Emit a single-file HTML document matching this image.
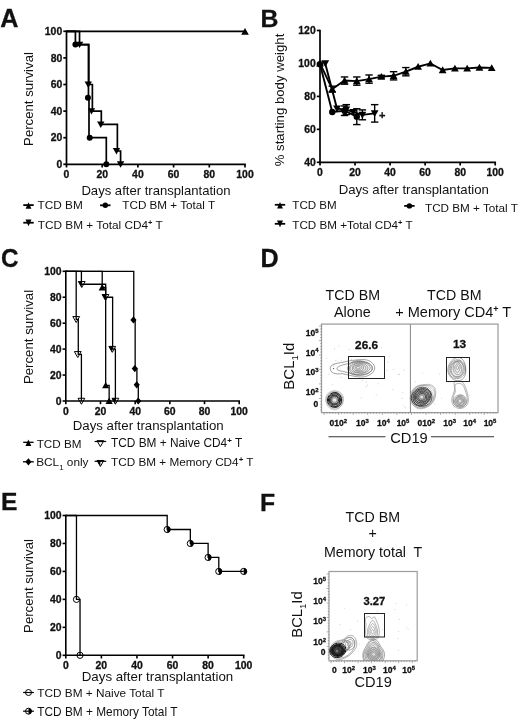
<!DOCTYPE html>
<html lang="en"><head><meta charset="utf-8"><title>Figure</title>
<style>html,body{margin:0;padding:0;background:#fff}svg{display:block}text{font-family:'Liberation Sans', Arial, sans-serif}</style>
</head><body>
<svg width="520" height="722" viewBox="0 0 520 722">
<rect width="520" height="722" fill="#fff"/>
<text xml:space="preserve" x="0.30" y="26.80" font-size="25.2" font-weight="bold" stroke="#111" stroke-width="0.3" text-anchor="start" fill="#111">A</text>
<line x1="66.50" y1="30.45" x2="66.50" y2="165.15" stroke="#000" stroke-width="1.7"/>
<line x1="65.65" y1="164.30" x2="245.85" y2="164.30" stroke="#000" stroke-width="1.7"/>
<line x1="63.30" y1="164.30" x2="66.50" y2="164.30" stroke="#000" stroke-width="1.7"/>
<text xml:space="preserve" x="62.20" y="168.04" font-size="10.4" font-weight="bold" stroke="#111" stroke-width="0.3" text-anchor="end" fill="#111">0</text>
<line x1="63.30" y1="137.70" x2="66.50" y2="137.70" stroke="#000" stroke-width="1.7"/>
<text xml:space="preserve" x="62.20" y="141.44" font-size="10.4" font-weight="bold" stroke="#111" stroke-width="0.3" text-anchor="end" fill="#111">20</text>
<line x1="63.30" y1="111.10" x2="66.50" y2="111.10" stroke="#000" stroke-width="1.7"/>
<text xml:space="preserve" x="62.20" y="114.84" font-size="10.4" font-weight="bold" stroke="#111" stroke-width="0.3" text-anchor="end" fill="#111">40</text>
<line x1="63.30" y1="84.50" x2="66.50" y2="84.50" stroke="#000" stroke-width="1.7"/>
<text xml:space="preserve" x="62.20" y="88.24" font-size="10.4" font-weight="bold" stroke="#111" stroke-width="0.3" text-anchor="end" fill="#111">60</text>
<line x1="63.30" y1="57.90" x2="66.50" y2="57.90" stroke="#000" stroke-width="1.7"/>
<text xml:space="preserve" x="62.20" y="61.64" font-size="10.4" font-weight="bold" stroke="#111" stroke-width="0.3" text-anchor="end" fill="#111">80</text>
<line x1="63.30" y1="31.30" x2="66.50" y2="31.30" stroke="#000" stroke-width="1.7"/>
<text xml:space="preserve" x="62.20" y="35.04" font-size="10.4" font-weight="bold" stroke="#111" stroke-width="0.3" text-anchor="end" fill="#111">100</text>
<line x1="66.50" y1="164.30" x2="66.50" y2="167.50" stroke="#000" stroke-width="1.7"/>
<text xml:space="preserve" x="66.50" y="178.00" font-size="10.4" font-weight="bold" stroke="#111" stroke-width="0.3" text-anchor="middle" fill="#111">0</text>
<line x1="102.20" y1="164.30" x2="102.20" y2="167.50" stroke="#000" stroke-width="1.7"/>
<text xml:space="preserve" x="102.20" y="178.00" font-size="10.4" font-weight="bold" stroke="#111" stroke-width="0.3" text-anchor="middle" fill="#111">20</text>
<line x1="137.90" y1="164.30" x2="137.90" y2="167.50" stroke="#000" stroke-width="1.7"/>
<text xml:space="preserve" x="137.90" y="178.00" font-size="10.4" font-weight="bold" stroke="#111" stroke-width="0.3" text-anchor="middle" fill="#111">40</text>
<line x1="173.60" y1="164.30" x2="173.60" y2="167.50" stroke="#000" stroke-width="1.7"/>
<text xml:space="preserve" x="173.60" y="178.00" font-size="10.4" font-weight="bold" stroke="#111" stroke-width="0.3" text-anchor="middle" fill="#111">60</text>
<line x1="209.30" y1="164.30" x2="209.30" y2="167.50" stroke="#000" stroke-width="1.7"/>
<text xml:space="preserve" x="209.30" y="178.00" font-size="10.4" font-weight="bold" stroke="#111" stroke-width="0.3" text-anchor="middle" fill="#111">80</text>
<line x1="245.00" y1="164.30" x2="245.00" y2="167.50" stroke="#000" stroke-width="1.7"/>
<text xml:space="preserve" x="245.00" y="178.00" font-size="10.4" font-weight="bold" stroke="#111" stroke-width="0.3" text-anchor="middle" fill="#111">100</text>
<text xml:space="preserve" x="33.30" y="99.00" font-size="13.2" text-anchor="middle" fill="#111" transform="rotate(-90 33.30 99.00)">Percent survival</text>
<text xml:space="preserve" x="156.00" y="194.50" font-size="13.1" text-anchor="middle" fill="#111">Days after transplantation</text>
<polyline points="66.50,31.30 245.00,31.30" fill="none" stroke="#000" stroke-width="1.7" stroke-linejoin="miter"/>
<path d="M241.20 34.64L248.80 34.64L245.00 27.99Z" fill="#000"/>
<polyline points="66.50,31.30 75.42,31.30 75.42,44.60 88.46,44.60 88.46,97.80 88.99,97.80 88.99,137.70 106.31,137.70 106.31,164.30" fill="none" stroke="#000" stroke-width="1.7" stroke-linejoin="miter"/>
<circle cx="75.42" cy="44.60" r="3.0" fill="#000"/>
<circle cx="87.92" cy="97.80" r="3.0" fill="#000"/>
<circle cx="89.70" cy="137.70" r="3.0" fill="#000"/>
<circle cx="106.31" cy="164.30" r="3.0" fill="#000"/>
<polyline points="66.50,31.30 79.53,31.30 79.53,44.60 88.81,44.60 88.81,84.50 92.38,84.50 92.38,111.10 101.31,111.10 101.31,124.40 117.37,124.40 117.37,151.00 120.59,151.00 120.59,164.30" fill="none" stroke="#000" stroke-width="1.7" stroke-linejoin="miter"/>
<path d="M75.83 41.64L83.23 41.64L79.53 48.12Z" fill="#000"/>
<path d="M84.58 81.54L91.98 81.54L88.28 88.02Z" fill="#000"/>
<path d="M87.79 108.14L95.19 108.14L91.49 114.62Z" fill="#000"/>
<path d="M97.07 121.44L104.47 121.44L100.77 127.92Z" fill="#000"/>
<path d="M112.78 148.04L120.18 148.04L116.48 154.51Z" fill="#000"/>
<path d="M116.89 161.34L124.29 161.34L120.59 167.81Z" fill="#000"/>
<line x1="23.30" y1="205.10" x2="33.70" y2="205.10" stroke="#000" stroke-width="1.8"/>
<path d="M25.60 208.70L31.40 208.70L28.50 202.20Z" fill="#000"/>
<text xml:space="preserve" x="37.60" y="208.90" font-size="11.8" text-anchor="start" fill="#111">TCD BM</text>
<line x1="100.10" y1="205.30" x2="110.50" y2="205.30" stroke="#000" stroke-width="1.8"/>
<circle cx="105.30" cy="205.30" r="2.7" fill="#000"/>
<text xml:space="preserve" x="122.30" y="209.40" font-size="11.7" text-anchor="start" fill="#111">TCD BM + Total T</text>
<line x1="23.30" y1="222.70" x2="33.70" y2="222.70" stroke="#000" stroke-width="1.8"/>
<path d="M25.50 219.50L31.50 219.50L28.50 226.20Z" fill="#000"/>
<text xml:space="preserve" x="37.80" y="229.40" font-size="11.8" text-anchor="start" fill="#111">TCD BM + Total CD4<tspan dy="-4" font-size="7.5" font-weight="bold">+</tspan><tspan dy="4"> T</tspan></text>
<text xml:space="preserve" x="260.60" y="26.60" font-size="24.8" font-weight="bold" stroke="#111" stroke-width="0.3" text-anchor="start" fill="#111">B</text>
<line x1="320.00" y1="29.65" x2="320.00" y2="163.15" stroke="#000" stroke-width="1.7"/>
<line x1="319.15" y1="162.30" x2="496.05" y2="162.30" stroke="#000" stroke-width="1.7"/>
<line x1="316.80" y1="162.30" x2="320.00" y2="162.30" stroke="#000" stroke-width="1.7"/>
<text xml:space="preserve" x="315.70" y="166.04" font-size="10.4" font-weight="bold" stroke="#111" stroke-width="0.3" text-anchor="end" fill="#111">40</text>
<line x1="316.80" y1="129.35" x2="320.00" y2="129.35" stroke="#000" stroke-width="1.7"/>
<text xml:space="preserve" x="315.70" y="133.09" font-size="10.4" font-weight="bold" stroke="#111" stroke-width="0.3" text-anchor="end" fill="#111">60</text>
<line x1="316.80" y1="96.40" x2="320.00" y2="96.40" stroke="#000" stroke-width="1.7"/>
<text xml:space="preserve" x="315.70" y="100.14" font-size="10.4" font-weight="bold" stroke="#111" stroke-width="0.3" text-anchor="end" fill="#111">80</text>
<line x1="316.80" y1="63.45" x2="320.00" y2="63.45" stroke="#000" stroke-width="1.7"/>
<text xml:space="preserve" x="315.70" y="67.19" font-size="10.4" font-weight="bold" stroke="#111" stroke-width="0.3" text-anchor="end" fill="#111">100</text>
<line x1="316.80" y1="30.50" x2="320.00" y2="30.50" stroke="#000" stroke-width="1.7"/>
<text xml:space="preserve" x="315.70" y="34.24" font-size="10.4" font-weight="bold" stroke="#111" stroke-width="0.3" text-anchor="end" fill="#111">120</text>
<line x1="320.00" y1="162.30" x2="320.00" y2="165.50" stroke="#000" stroke-width="1.7"/>
<text xml:space="preserve" x="320.00" y="176.00" font-size="10.4" font-weight="bold" stroke="#111" stroke-width="0.3" text-anchor="middle" fill="#111">0</text>
<line x1="355.04" y1="162.30" x2="355.04" y2="165.50" stroke="#000" stroke-width="1.7"/>
<text xml:space="preserve" x="355.04" y="176.00" font-size="10.4" font-weight="bold" stroke="#111" stroke-width="0.3" text-anchor="middle" fill="#111">20</text>
<line x1="390.08" y1="162.30" x2="390.08" y2="165.50" stroke="#000" stroke-width="1.7"/>
<text xml:space="preserve" x="390.08" y="176.00" font-size="10.4" font-weight="bold" stroke="#111" stroke-width="0.3" text-anchor="middle" fill="#111">40</text>
<line x1="425.12" y1="162.30" x2="425.12" y2="165.50" stroke="#000" stroke-width="1.7"/>
<text xml:space="preserve" x="425.12" y="176.00" font-size="10.4" font-weight="bold" stroke="#111" stroke-width="0.3" text-anchor="middle" fill="#111">60</text>
<line x1="460.16" y1="162.30" x2="460.16" y2="165.50" stroke="#000" stroke-width="1.7"/>
<text xml:space="preserve" x="460.16" y="176.00" font-size="10.4" font-weight="bold" stroke="#111" stroke-width="0.3" text-anchor="middle" fill="#111">80</text>
<line x1="495.20" y1="162.30" x2="495.20" y2="165.50" stroke="#000" stroke-width="1.7"/>
<text xml:space="preserve" x="495.20" y="176.00" font-size="10.4" font-weight="bold" stroke="#111" stroke-width="0.3" text-anchor="middle" fill="#111">100</text>
<text xml:space="preserve" x="284.00" y="100.00" font-size="13.2" text-anchor="middle" fill="#111" transform="rotate(-90 284.00 100.00)">% starting body weight</text>
<text xml:space="preserve" x="413.80" y="194.30" font-size="13.2" text-anchor="middle" fill="#111">Days after transplantation</text>
<line x1="332.26" y1="92.12" x2="332.26" y2="86.19" stroke="#000" stroke-width="1.4"/>
<line x1="328.56" y1="92.12" x2="335.96" y2="92.12" stroke="#000" stroke-width="1.4"/>
<line x1="328.56" y1="86.19" x2="335.96" y2="86.19" stroke="#000" stroke-width="1.4"/>
<line x1="344.53" y1="84.21" x2="344.53" y2="76.96" stroke="#000" stroke-width="1.4"/>
<line x1="340.83" y1="84.21" x2="348.23" y2="84.21" stroke="#000" stroke-width="1.4"/>
<line x1="340.83" y1="76.96" x2="348.23" y2="76.96" stroke="#000" stroke-width="1.4"/>
<line x1="356.79" y1="85.20" x2="356.79" y2="76.96" stroke="#000" stroke-width="1.4"/>
<line x1="353.09" y1="85.20" x2="360.49" y2="85.20" stroke="#000" stroke-width="1.4"/>
<line x1="353.09" y1="76.96" x2="360.49" y2="76.96" stroke="#000" stroke-width="1.4"/>
<line x1="369.06" y1="83.22" x2="369.06" y2="74.98" stroke="#000" stroke-width="1.4"/>
<line x1="365.36" y1="83.22" x2="372.76" y2="83.22" stroke="#000" stroke-width="1.4"/>
<line x1="365.36" y1="74.98" x2="372.76" y2="74.98" stroke="#000" stroke-width="1.4"/>
<line x1="381.32" y1="77.95" x2="381.32" y2="75.31" stroke="#000" stroke-width="1.4"/>
<line x1="377.62" y1="77.95" x2="385.02" y2="77.95" stroke="#000" stroke-width="1.4"/>
<line x1="377.62" y1="75.31" x2="385.02" y2="75.31" stroke="#000" stroke-width="1.4"/>
<line x1="393.58" y1="79.92" x2="393.58" y2="71.69" stroke="#000" stroke-width="1.4"/>
<line x1="389.88" y1="79.92" x2="397.28" y2="79.92" stroke="#000" stroke-width="1.4"/>
<line x1="389.88" y1="71.69" x2="397.28" y2="71.69" stroke="#000" stroke-width="1.4"/>
<line x1="405.85" y1="75.81" x2="405.85" y2="67.57" stroke="#000" stroke-width="1.4"/>
<line x1="402.15" y1="75.81" x2="409.55" y2="75.81" stroke="#000" stroke-width="1.4"/>
<line x1="402.15" y1="67.57" x2="409.55" y2="67.57" stroke="#000" stroke-width="1.4"/>
<polyline points="320.00,63.45 332.26,89.15 344.53,80.58 356.79,81.08 369.06,79.10 381.32,76.63 393.58,75.81 405.85,71.69 418.11,66.75 430.38,63.45 442.64,70.04 454.90,68.39 467.17,68.39 479.43,67.57 491.70,67.90" fill="none" stroke="#000" stroke-width="1.9" stroke-linejoin="miter"/>
<path d="M316.10 66.57L323.90 66.57L320.00 59.75Z" fill="#000"/>
<path d="M328.36 92.27L336.16 92.27L332.26 85.45Z" fill="#000"/>
<path d="M340.63 83.70L348.43 83.70L344.53 76.88Z" fill="#000"/>
<path d="M352.89 84.20L360.69 84.20L356.79 77.37Z" fill="#000"/>
<path d="M365.16 82.22L372.96 82.22L369.06 75.40Z" fill="#000"/>
<path d="M377.42 79.75L385.22 79.75L381.32 72.93Z" fill="#000"/>
<path d="M389.68 78.93L397.48 78.93L393.58 72.10Z" fill="#000"/>
<path d="M401.95 74.81L409.75 74.81L405.85 67.98Z" fill="#000"/>
<path d="M414.21 69.87L422.01 69.87L418.11 63.04Z" fill="#000"/>
<path d="M426.48 66.57L434.28 66.57L430.38 59.75Z" fill="#000"/>
<path d="M438.74 73.16L446.54 73.16L442.64 66.33Z" fill="#000"/>
<path d="M451.00 71.51L458.80 71.51L454.90 64.69Z" fill="#000"/>
<path d="M463.27 71.51L471.07 71.51L467.17 64.69Z" fill="#000"/>
<path d="M475.53 70.69L483.33 70.69L479.43 63.86Z" fill="#000"/>
<path d="M487.80 71.02L495.60 71.02L491.70 64.19Z" fill="#000"/>
<line x1="344.53" y1="115.51" x2="344.53" y2="105.96" stroke="#000" stroke-width="1.4"/>
<line x1="340.83" y1="115.51" x2="348.23" y2="115.51" stroke="#000" stroke-width="1.4"/>
<line x1="340.83" y1="105.96" x2="348.23" y2="105.96" stroke="#000" stroke-width="1.4"/>
<line x1="356.79" y1="124.57" x2="356.79" y2="108.76" stroke="#000" stroke-width="1.4"/>
<line x1="353.09" y1="124.57" x2="360.49" y2="124.57" stroke="#000" stroke-width="1.4"/>
<line x1="353.09" y1="108.76" x2="360.49" y2="108.76" stroke="#000" stroke-width="1.4"/>
<polyline points="320.00,64.27 332.26,112.05 344.53,110.73 356.79,116.66" fill="none" stroke="#000" stroke-width="1.9" stroke-linejoin="miter"/>
<circle cx="320.00" cy="64.27" r="3.2" fill="#000"/>
<circle cx="332.26" cy="112.05" r="3.2" fill="#000"/>
<circle cx="344.53" cy="110.73" r="3.2" fill="#000"/>
<circle cx="356.79" cy="116.66" r="3.2" fill="#000"/>
<line x1="346.28" y1="114.52" x2="346.28" y2="104.64" stroke="#000" stroke-width="1.4"/>
<line x1="342.58" y1="114.52" x2="349.98" y2="114.52" stroke="#000" stroke-width="1.4"/>
<line x1="342.58" y1="104.64" x2="349.98" y2="104.64" stroke="#000" stroke-width="1.4"/>
<line x1="362.40" y1="119.79" x2="362.40" y2="109.91" stroke="#000" stroke-width="1.4"/>
<line x1="358.70" y1="119.79" x2="366.10" y2="119.79" stroke="#000" stroke-width="1.4"/>
<line x1="358.70" y1="109.91" x2="366.10" y2="109.91" stroke="#000" stroke-width="1.4"/>
<line x1="374.66" y1="122.10" x2="374.66" y2="104.64" stroke="#000" stroke-width="1.4"/>
<line x1="370.96" y1="122.10" x2="378.36" y2="122.10" stroke="#000" stroke-width="1.4"/>
<line x1="370.96" y1="104.64" x2="378.36" y2="104.64" stroke="#000" stroke-width="1.4"/>
<polyline points="325.26,63.45 336.99,108.59 346.28,109.58 353.29,112.05 362.40,114.85 374.66,113.37" fill="none" stroke="#000" stroke-width="1.9" stroke-linejoin="miter"/>
<path d="M321.36 60.33L329.16 60.33L325.26 67.16Z" fill="#000"/>
<path d="M333.09 105.47L340.89 105.47L336.99 112.30Z" fill="#000"/>
<path d="M342.38 106.46L350.18 106.46L346.28 113.29Z" fill="#000"/>
<path d="M349.39 108.93L357.19 108.93L353.29 115.76Z" fill="#000"/>
<path d="M358.50 111.73L366.30 111.73L362.40 118.56Z" fill="#000"/>
<path d="M370.76 110.25L378.56 110.25L374.66 117.07Z" fill="#000"/>
<text xml:space="preserve" x="382.20" y="118.88" font-size="11" font-weight="bold" stroke="#111" stroke-width="0.3" text-anchor="middle" fill="#111">+</text>
<line x1="274.80" y1="204.80" x2="285.20" y2="204.80" stroke="#000" stroke-width="1.8"/>
<path d="M277.10 208.40L282.90 208.40L280.00 201.90Z" fill="#000"/>
<text xml:space="preserve" x="292.30" y="209.30" font-size="11.6" text-anchor="start" fill="#111">TCD BM</text>
<line x1="404.20" y1="205.90" x2="414.60" y2="205.90" stroke="#000" stroke-width="1.8"/>
<circle cx="409.40" cy="205.90" r="2.7" fill="#000"/>
<text xml:space="preserve" x="425.00" y="211.90" font-size="11.7" text-anchor="start" fill="#111">TCD BM + Total T</text>
<line x1="274.80" y1="223.80" x2="285.20" y2="223.80" stroke="#000" stroke-width="1.8"/>
<path d="M277.00 220.60L283.00 220.60L280.00 227.30Z" fill="#000"/>
<text xml:space="preserve" x="292.30" y="229.30" font-size="11.65" text-anchor="start" fill="#111">TCD BM +Total CD4<tspan dy="-4" font-size="7.5" font-weight="bold">+</tspan><tspan dy="4"> T</tspan></text>
<text transform="translate(0.9 266.9) scale(0.92 1)" font-size="26.4" font-weight="bold" stroke="#111" stroke-width="0.3" fill="#111">C</text>
<line x1="65.80" y1="270.50" x2="65.80" y2="401.80" stroke="#000" stroke-width="1.6"/>
<line x1="65.00" y1="401.00" x2="240.00" y2="401.00" stroke="#000" stroke-width="1.6"/>
<line x1="62.60" y1="401.00" x2="65.80" y2="401.00" stroke="#000" stroke-width="1.6"/>
<text xml:space="preserve" x="61.50" y="404.74" font-size="10.4" font-weight="bold" stroke="#111" stroke-width="0.3" text-anchor="end" fill="#111">0</text>
<line x1="62.60" y1="375.06" x2="65.80" y2="375.06" stroke="#000" stroke-width="1.6"/>
<text xml:space="preserve" x="61.50" y="378.80" font-size="10.4" font-weight="bold" stroke="#111" stroke-width="0.3" text-anchor="end" fill="#111">20</text>
<line x1="62.60" y1="349.12" x2="65.80" y2="349.12" stroke="#000" stroke-width="1.6"/>
<text xml:space="preserve" x="61.50" y="352.86" font-size="10.4" font-weight="bold" stroke="#111" stroke-width="0.3" text-anchor="end" fill="#111">40</text>
<line x1="62.60" y1="323.18" x2="65.80" y2="323.18" stroke="#000" stroke-width="1.6"/>
<text xml:space="preserve" x="61.50" y="326.92" font-size="10.4" font-weight="bold" stroke="#111" stroke-width="0.3" text-anchor="end" fill="#111">60</text>
<line x1="62.60" y1="297.24" x2="65.80" y2="297.24" stroke="#000" stroke-width="1.6"/>
<text xml:space="preserve" x="61.50" y="300.98" font-size="10.4" font-weight="bold" stroke="#111" stroke-width="0.3" text-anchor="end" fill="#111">80</text>
<line x1="62.60" y1="271.30" x2="65.80" y2="271.30" stroke="#000" stroke-width="1.6"/>
<text xml:space="preserve" x="61.50" y="275.04" font-size="10.4" font-weight="bold" stroke="#111" stroke-width="0.3" text-anchor="end" fill="#111">100</text>
<line x1="65.80" y1="401.00" x2="65.80" y2="404.20" stroke="#000" stroke-width="1.6"/>
<text xml:space="preserve" x="65.80" y="414.70" font-size="10.4" font-weight="bold" stroke="#111" stroke-width="0.3" text-anchor="middle" fill="#111">0</text>
<line x1="100.48" y1="401.00" x2="100.48" y2="404.20" stroke="#000" stroke-width="1.6"/>
<text xml:space="preserve" x="100.48" y="414.70" font-size="10.4" font-weight="bold" stroke="#111" stroke-width="0.3" text-anchor="middle" fill="#111">20</text>
<line x1="135.16" y1="401.00" x2="135.16" y2="404.20" stroke="#000" stroke-width="1.6"/>
<text xml:space="preserve" x="135.16" y="414.70" font-size="10.4" font-weight="bold" stroke="#111" stroke-width="0.3" text-anchor="middle" fill="#111">40</text>
<line x1="169.84" y1="401.00" x2="169.84" y2="404.20" stroke="#000" stroke-width="1.6"/>
<text xml:space="preserve" x="169.84" y="414.70" font-size="10.4" font-weight="bold" stroke="#111" stroke-width="0.3" text-anchor="middle" fill="#111">60</text>
<line x1="204.52" y1="401.00" x2="204.52" y2="404.20" stroke="#000" stroke-width="1.6"/>
<text xml:space="preserve" x="204.52" y="414.70" font-size="10.4" font-weight="bold" stroke="#111" stroke-width="0.3" text-anchor="middle" fill="#111">80</text>
<line x1="239.20" y1="401.00" x2="239.20" y2="404.20" stroke="#000" stroke-width="1.6"/>
<text xml:space="preserve" x="239.20" y="414.70" font-size="10.4" font-weight="bold" stroke="#111" stroke-width="0.3" text-anchor="middle" fill="#111">100</text>
<text xml:space="preserve" x="32.70" y="337.00" font-size="13.25" text-anchor="middle" fill="#111" transform="rotate(-90 32.70 337.00)">Percent survival</text>
<text xml:space="preserve" x="148.20" y="429.50" font-size="13.25" text-anchor="middle" fill="#111">Days after transplantation</text>
<polyline points="65.80,271.30 133.77,271.30 133.77,319.94 135.16,319.94 135.16,368.57 136.89,368.57 136.89,384.79 138.28,384.79 138.28,401.00" fill="none" stroke="#000" stroke-width="1.3" stroke-linejoin="miter"/>
<polyline points="65.80,271.30 102.21,271.30 102.21,287.51 105.68,287.51 105.68,385.44 109.15,385.44 109.15,401.00" fill="none" stroke="#000" stroke-width="1.3" stroke-linejoin="miter"/>
<polyline points="65.80,271.30 76.20,271.30 76.20,319.29 78.28,319.29 78.28,354.31 81.41,354.31 81.41,401.00" fill="none" stroke="#000" stroke-width="1.3" stroke-linejoin="miter"/>
<polyline points="65.80,271.30 81.41,271.30 81.41,284.27 105.68,284.27 105.68,297.24 112.62,297.24 112.62,349.12 115.39,349.12 115.39,401.00" fill="none" stroke="#000" stroke-width="1.3" stroke-linejoin="miter"/>
<path d="M130.37 319.94L133.43 316.34L136.49 319.94L133.43 323.54Z" fill="#000"/>
<path d="M131.75 368.57L134.81 364.97L137.87 368.57L134.81 372.18Z" fill="#000"/>
<path d="M133.66 384.79L136.72 381.19L139.78 384.79L136.72 388.39Z" fill="#000"/>
<path d="M135.22 401.00L138.28 397.40L141.34 401.00L138.28 404.60Z" fill="#000"/>
<path d="M98.61 290.39L105.81 290.39L102.21 284.09Z" fill="#000"/>
<path d="M102.08 388.32L109.28 388.32L105.68 382.02Z" fill="#000"/>
<path d="M105.55 403.88L112.75 403.88L109.15 397.58Z" fill="#000"/>
<path d="M72.80 316.57L79.60 316.57L76.20 322.52Z" fill="none" stroke="#000" stroke-width="1.0"/>
<path d="M74.36 351.59L81.16 351.59L77.76 357.54Z" fill="none" stroke="#000" stroke-width="1.0"/>
<path d="M78.01 398.28L84.81 398.28L81.41 404.23Z" fill="none" stroke="#000" stroke-width="1.0"/>
<path d="M78.35 281.55L85.15 281.55L81.75 287.50Z" fill="none" stroke="#000" stroke-width="1.0"/>
<path d="M78.35 281.55L81.75 281.55L81.75 287.50Z" fill="#000"/>
<path d="M102.11 294.52L108.91 294.52L105.51 300.47Z" fill="none" stroke="#000" stroke-width="1.0"/>
<path d="M102.11 294.52L105.51 294.52L105.51 300.47Z" fill="#000"/>
<path d="M108.87 346.40L115.67 346.40L112.27 352.35Z" fill="none" stroke="#000" stroke-width="1.0"/>
<path d="M108.87 346.40L112.27 346.40L112.27 352.35Z" fill="#000"/>
<path d="M111.99 398.28L118.79 398.28L115.39 404.23Z" fill="none" stroke="#000" stroke-width="1.0"/>
<path d="M111.99 398.28L115.39 398.28L115.39 404.23Z" fill="#000"/>
<line x1="23.20" y1="442.30" x2="33.60" y2="442.30" stroke="#000" stroke-width="1.3"/>
<path d="M25.50 445.90L31.30 445.90L28.40 439.40Z" fill="#000"/>
<text xml:space="preserve" x="36.70" y="447.50" font-size="11.7" text-anchor="start" fill="#111">TCD BM</text>
<line x1="94.60" y1="441.50" x2="106.20" y2="441.50" stroke="#000" stroke-width="1.2"/>
<path d="M97.00 440.68L103.80 440.68L100.40 446.63Z" fill="none" stroke="#000" stroke-width="1.0"/>
<text xml:space="preserve" x="111.00" y="447.30" font-size="11.85" text-anchor="start" fill="#111">TCD BM + Naive CD4<tspan dy="-4" font-size="8" font-weight="bold">+</tspan><tspan dy="4"> T</tspan></text>
<line x1="23.00" y1="461.80" x2="33.80" y2="461.80" stroke="#000" stroke-width="1.3"/>
<path d="M25.34 461.80L28.40 458.20L31.46 461.80L28.40 465.40Z" fill="#000"/>
<text xml:space="preserve" x="36.20" y="466.20" font-size="11.8" text-anchor="start" fill="#111">BCL<tspan dy="3.5" font-size="8">1</tspan><tspan dy="-3.5"> only</tspan></text>
<line x1="94.60" y1="461.30" x2="106.20" y2="461.30" stroke="#000" stroke-width="1.2"/>
<path d="M97.00 460.48L103.80 460.48L100.40 466.43Z" fill="none" stroke="#000" stroke-width="1.0"/>
<path d="M97.00 460.48L100.40 460.48L100.40 466.43Z" fill="#000"/>
<text xml:space="preserve" x="111.00" y="465.60" font-size="11.75" text-anchor="start" fill="#111">TCD BM + Memory CD4<tspan dy="-4" font-size="8" font-weight="bold">+</tspan><tspan dy="4"> T</tspan></text>
<text xml:space="preserve" x="0.90" y="510.40" font-size="24.6" font-weight="bold" stroke="#111" stroke-width="0.3" text-anchor="start" fill="#111">E</text>
<line x1="65.80" y1="514.70" x2="65.80" y2="656.10" stroke="#000" stroke-width="1.6"/>
<line x1="65.00" y1="655.30" x2="244.50" y2="655.30" stroke="#000" stroke-width="1.6"/>
<line x1="62.60" y1="655.30" x2="65.80" y2="655.30" stroke="#000" stroke-width="1.6"/>
<text xml:space="preserve" x="61.50" y="659.04" font-size="10.4" font-weight="bold" stroke="#111" stroke-width="0.3" text-anchor="end" fill="#111">0</text>
<line x1="62.60" y1="627.34" x2="65.80" y2="627.34" stroke="#000" stroke-width="1.6"/>
<text xml:space="preserve" x="61.50" y="631.08" font-size="10.4" font-weight="bold" stroke="#111" stroke-width="0.3" text-anchor="end" fill="#111">20</text>
<line x1="62.60" y1="599.38" x2="65.80" y2="599.38" stroke="#000" stroke-width="1.6"/>
<text xml:space="preserve" x="61.50" y="603.12" font-size="10.4" font-weight="bold" stroke="#111" stroke-width="0.3" text-anchor="end" fill="#111">40</text>
<line x1="62.60" y1="571.42" x2="65.80" y2="571.42" stroke="#000" stroke-width="1.6"/>
<text xml:space="preserve" x="61.50" y="575.16" font-size="10.4" font-weight="bold" stroke="#111" stroke-width="0.3" text-anchor="end" fill="#111">60</text>
<line x1="62.60" y1="543.46" x2="65.80" y2="543.46" stroke="#000" stroke-width="1.6"/>
<text xml:space="preserve" x="61.50" y="547.20" font-size="10.4" font-weight="bold" stroke="#111" stroke-width="0.3" text-anchor="end" fill="#111">80</text>
<line x1="62.60" y1="515.50" x2="65.80" y2="515.50" stroke="#000" stroke-width="1.6"/>
<text xml:space="preserve" x="61.50" y="519.24" font-size="10.4" font-weight="bold" stroke="#111" stroke-width="0.3" text-anchor="end" fill="#111">100</text>
<line x1="65.80" y1="655.30" x2="65.80" y2="658.50" stroke="#000" stroke-width="1.6"/>
<text xml:space="preserve" x="65.80" y="669.00" font-size="10.4" font-weight="bold" stroke="#111" stroke-width="0.3" text-anchor="middle" fill="#111">0</text>
<line x1="101.38" y1="655.30" x2="101.38" y2="658.50" stroke="#000" stroke-width="1.6"/>
<text xml:space="preserve" x="101.38" y="669.00" font-size="10.4" font-weight="bold" stroke="#111" stroke-width="0.3" text-anchor="middle" fill="#111">20</text>
<line x1="136.96" y1="655.30" x2="136.96" y2="658.50" stroke="#000" stroke-width="1.6"/>
<text xml:space="preserve" x="136.96" y="669.00" font-size="10.4" font-weight="bold" stroke="#111" stroke-width="0.3" text-anchor="middle" fill="#111">40</text>
<line x1="172.54" y1="655.30" x2="172.54" y2="658.50" stroke="#000" stroke-width="1.6"/>
<text xml:space="preserve" x="172.54" y="669.00" font-size="10.4" font-weight="bold" stroke="#111" stroke-width="0.3" text-anchor="middle" fill="#111">60</text>
<line x1="208.12" y1="655.30" x2="208.12" y2="658.50" stroke="#000" stroke-width="1.6"/>
<text xml:space="preserve" x="208.12" y="669.00" font-size="10.4" font-weight="bold" stroke="#111" stroke-width="0.3" text-anchor="middle" fill="#111">80</text>
<line x1="243.70" y1="655.30" x2="243.70" y2="658.50" stroke="#000" stroke-width="1.6"/>
<text xml:space="preserve" x="243.70" y="669.00" font-size="10.4" font-weight="bold" stroke="#111" stroke-width="0.3" text-anchor="middle" fill="#111">100</text>
<text xml:space="preserve" x="32.70" y="586.00" font-size="13.2" text-anchor="middle" fill="#111" transform="rotate(-90 32.70 586.00)">Percent survival</text>
<text xml:space="preserve" x="157.50" y="680.70" font-size="13.3" text-anchor="middle" fill="#111">Days after transplantation</text>
<polyline points="65.80,515.50 76.47,515.50 76.47,599.38 80.03,599.38 80.03,655.30" fill="none" stroke="#000" stroke-width="1.3" stroke-linejoin="miter"/>
<polyline points="65.80,515.50 167.20,515.50 167.20,529.48 190.33,529.48 190.33,543.46 208.12,543.46 208.12,557.44 218.79,557.44 218.79,571.42 243.70,571.42" fill="none" stroke="#000" stroke-width="1.3" stroke-linejoin="miter"/>
<circle cx="76.47" cy="599.38" r="3.1" fill="none" stroke="#000" stroke-width="1.0"/>
<circle cx="80.03" cy="655.30" r="3.1" fill="none" stroke="#000" stroke-width="1.0"/>
<circle cx="167.20" cy="529.48" r="3.1" fill="none" stroke="#000" stroke-width="1.0"/>
<path d="M167.20 526.38A3.1 3.1 0 0 1 167.20 532.58Z" fill="#000"/>
<circle cx="190.33" cy="543.46" r="3.1" fill="none" stroke="#000" stroke-width="1.0"/>
<path d="M190.33 540.36A3.1 3.1 0 0 1 190.33 546.56Z" fill="#000"/>
<circle cx="208.12" cy="557.44" r="3.1" fill="none" stroke="#000" stroke-width="1.0"/>
<path d="M208.12 554.34A3.1 3.1 0 0 1 208.12 560.54Z" fill="#000"/>
<circle cx="218.79" cy="571.42" r="3.1" fill="none" stroke="#000" stroke-width="1.0"/>
<path d="M218.79 568.32A3.1 3.1 0 0 1 218.79 574.52Z" fill="#000"/>
<circle cx="243.70" cy="571.42" r="3.1" fill="none" stroke="#000" stroke-width="1.0"/>
<path d="M243.70 568.32A3.1 3.1 0 0 1 243.70 574.52Z" fill="#000"/>
<line x1="23.10" y1="692.50" x2="33.90" y2="692.50" stroke="#000" stroke-width="1.2"/>
<circle cx="28.50" cy="692.50" r="3.0" fill="none" stroke="#000" stroke-width="1.0"/>
<text xml:space="preserve" x="37.30" y="696.70" font-size="11.8" text-anchor="start" fill="#111">TCD BM + Naive Total T</text>
<line x1="23.10" y1="711.20" x2="33.90" y2="711.20" stroke="#000" stroke-width="1.2"/>
<circle cx="28.50" cy="711.20" r="3.0" fill="none" stroke="#000" stroke-width="1.0"/>
<path d="M28.50 708.20A3.0 3.0 0 0 1 28.50 714.20Z" fill="#000"/>
<text xml:space="preserve" x="37.30" y="715.50" font-size="11.85" text-anchor="start" fill="#111">TCD BM + Memory Total T</text>
<text xml:space="preserve" x="260.40" y="266.90" font-size="25.2" font-weight="bold" stroke="#111" stroke-width="0.3" text-anchor="start" fill="#111">D</text>
<rect x="321.5" y="324.1" width="176.5" height="88.5" fill="none" stroke="#9c9c9c" stroke-width="1.25"/>
<line x1="410.40" y1="324.50" x2="410.40" y2="412.50" stroke="#666" stroke-width="0.8"/>
<text xml:space="preserve" x="352.80" y="299.90" font-size="14.2" text-anchor="middle" fill="#111">TCD BM</text>
<text xml:space="preserve" x="352.40" y="316.80" font-size="14.4" text-anchor="middle" fill="#111">Alone</text>
<text xml:space="preserve" x="454.30" y="299.90" font-size="14.2" text-anchor="middle" fill="#111">TCD BM</text>
<text xml:space="preserve" x="453.20" y="316.80" font-size="14.5" text-anchor="middle" fill="#111">+ Memory CD4<tspan dy="-5" font-size="9" font-weight="bold">+</tspan><tspan dy="5"> T</tspan></text>
<text xml:space="preserve" x="294.50" y="366.20" font-size="15.0" text-anchor="middle" fill="#111" transform="rotate(-90 294.50 366.20)">BCL<tspan dy="3.5" font-size="9.5">1</tspan><tspan dy="-3.5">Id</tspan></text>
<text xml:space="preserve" x="409.00" y="443.00" font-size="14.7" text-anchor="middle" fill="#111">CD19</text>
<line x1="328.50" y1="436.70" x2="385.50" y2="436.70" stroke="#333" stroke-width="1.1"/>
<line x1="431.00" y1="436.70" x2="494.00" y2="436.70" stroke="#333" stroke-width="1.1"/>
<text x="318.60" y="335.80" font-size="8.5" font-weight="bold" stroke="#111" stroke-width="0.3" text-anchor="end" fill="#111">10<tspan dy="-3.2" font-size="5.9">5</tspan></text>
<text x="318.60" y="355.60" font-size="8.5" font-weight="bold" stroke="#111" stroke-width="0.3" text-anchor="end" fill="#111">10<tspan dy="-3.2" font-size="5.9">4</tspan></text>
<text x="318.60" y="374.80" font-size="8.5" font-weight="bold" stroke="#111" stroke-width="0.3" text-anchor="end" fill="#111">10<tspan dy="-3.2" font-size="5.9">3</tspan></text>
<text x="318.60" y="394.80" font-size="8.5" font-weight="bold" stroke="#111" stroke-width="0.3" text-anchor="end" fill="#111">10<tspan dy="-3.2" font-size="5.9">2</tspan></text>
<text xml:space="preserve" x="318.30" y="407.00" font-size="8.5" font-weight="bold" stroke="#111" stroke-width="0.3" text-anchor="end" fill="#111">0</text>
<text xml:space="preserve" x="331.80" y="426.00" font-size="8.5" font-weight="bold" stroke="#111" stroke-width="0.3" text-anchor="middle" fill="#111">0</text>
<text x="340.60" y="426.00" font-size="8.5" font-weight="bold" stroke="#111" stroke-width="0.3" text-anchor="middle" fill="#111">10<tspan dy="-3.2" font-size="5.9">2</tspan></text>
<text x="362.30" y="426.00" font-size="8.5" font-weight="bold" stroke="#111" stroke-width="0.3" text-anchor="middle" fill="#111">10<tspan dy="-3.2" font-size="5.9">3</tspan></text>
<text x="383.30" y="426.00" font-size="8.5" font-weight="bold" stroke="#111" stroke-width="0.3" text-anchor="middle" fill="#111">10<tspan dy="-3.2" font-size="5.9">4</tspan></text>
<text x="403.00" y="426.00" font-size="8.5" font-weight="bold" stroke="#111" stroke-width="0.3" text-anchor="middle" fill="#111">10<tspan dy="-3.2" font-size="5.9">5</tspan></text>
<text xml:space="preserve" x="419.80" y="426.00" font-size="8.5" font-weight="bold" stroke="#111" stroke-width="0.3" text-anchor="middle" fill="#111">0</text>
<text x="428.60" y="426.00" font-size="8.5" font-weight="bold" stroke="#111" stroke-width="0.3" text-anchor="middle" fill="#111">10<tspan dy="-3.2" font-size="5.9">2</tspan></text>
<text x="449.60" y="426.00" font-size="8.5" font-weight="bold" stroke="#111" stroke-width="0.3" text-anchor="middle" fill="#111">10<tspan dy="-3.2" font-size="5.9">3</tspan></text>
<text x="469.60" y="426.00" font-size="8.5" font-weight="bold" stroke="#111" stroke-width="0.3" text-anchor="middle" fill="#111">10<tspan dy="-3.2" font-size="5.9">4</tspan></text>
<text x="490.00" y="426.00" font-size="8.5" font-weight="bold" stroke="#111" stroke-width="0.3" text-anchor="middle" fill="#111">10<tspan dy="-3.2" font-size="5.9">5</tspan></text>
<path d="M324.0 412.5v2.4M326.9 412.5v1.3M329.8 412.5v1.3M332.7 412.5v1.3M335.7 412.5v1.3M338.6 412.5v2.4M341.5 412.5v1.3M344.4 412.5v1.3M347.3 412.5v1.3M350.2 412.5v1.3M353.2 412.5v2.4M356.1 412.5v1.3M359.0 412.5v1.3M361.9 412.5v1.3M364.8 412.5v1.3M367.7 412.5v2.4M370.6 412.5v1.3M373.6 412.5v1.3M376.5 412.5v1.3M379.4 412.5v1.3M382.3 412.5v2.4M385.2 412.5v1.3M388.1 412.5v1.3M391.1 412.5v1.3M394.0 412.5v1.3M396.9 412.5v2.4M399.8 412.5v1.3M402.7 412.5v1.3M405.6 412.5v1.3M408.5 412.5v1.3M411.5 412.5v2.4M414.4 412.5v1.3M417.3 412.5v1.3M420.2 412.5v1.3M423.1 412.5v1.3M426.0 412.5v2.4M428.9 412.5v1.3M431.9 412.5v1.3M434.8 412.5v1.3M437.7 412.5v1.3M440.6 412.5v2.4M443.5 412.5v1.3M446.4 412.5v1.3M449.4 412.5v1.3M452.3 412.5v1.3M455.2 412.5v2.4M458.1 412.5v1.3M461.0 412.5v1.3M463.9 412.5v1.3M466.8 412.5v1.3M469.8 412.5v2.4M472.7 412.5v1.3M475.6 412.5v1.3M478.5 412.5v1.3M481.4 412.5v1.3M484.3 412.5v2.4M487.3 412.5v1.3M490.2 412.5v1.3M493.1 412.5v1.3M496.0 412.5v1.3" stroke="#777" stroke-width="0.6" fill="none"/>
<path d="M321.5 326.0h-2.4M321.5 328.9h-1.3M321.5 331.8h-1.3M321.5 334.7h-1.3M321.5 337.6h-1.3M321.5 340.5h-2.4M321.5 343.4h-1.3M321.5 346.3h-1.3M321.5 349.2h-1.3M321.5 352.1h-1.3M321.5 355.0h-2.4M321.5 357.9h-1.3M321.5 360.8h-1.3M321.5 363.7h-1.3M321.5 366.6h-1.3M321.5 369.4h-2.4M321.5 372.3h-1.3M321.5 375.2h-1.3M321.5 378.1h-1.3M321.5 381.0h-1.3M321.5 383.9h-2.4M321.5 386.8h-1.3M321.5 389.7h-1.3M321.5 392.6h-1.3M321.5 395.5h-1.3M321.5 398.4h-2.4M321.5 401.3h-1.3M321.5 404.2h-1.3M321.5 407.1h-1.3M321.5 410.0h-1.3" stroke="#777" stroke-width="0.6" fill="none"/>
<path d="M361.7 380.3h0.9M399.0 374.3h0.9M366.1 382.0h0.9M340.6 377.3h0.9M375.8 395.0h0.9M333.4 364.1h0.9M333.2 396.0h0.9M380.8 347.6h0.9M403.6 405.8h0.9M377.7 383.8h0.9M338.4 345.9h0.9M367.7 348.8h0.9M341.0 360.2h0.9M328.4 374.2h0.9M360.8 398.1h0.9M367.0 385.3h0.9M365.5 386.7h0.9M362.1 362.5h0.9M404.8 407.7h0.9M392.4 389.6h0.9M350.9 359.5h0.9M348.8 349.4h0.9M386.5 370.2h0.9M392.9 369.4h0.9M401.7 398.4h0.9M326.0 358.2h0.9M397.9 374.6h0.9M403.4 370.0h0.9M331.8 384.7h0.9M387.5 362.0h0.9M332.9 366.0h0.9M402.2 392.8h0.9M335.3 360.5h0.9M334.0 348.8h0.9M389.0 356.2h0.9" stroke="#c4c4c4" stroke-width="0.9" fill="none"/>
<ellipse cx="335" cy="399.8" rx="7.2" ry="8.3" fill="#666" opacity="0.35" transform="rotate(0 335 399.8)"/>
<path d="M343.6 400.0L343.3 401.8L342.7 403.5L341.8 405.1L340.8 406.5L339.5 407.7L338.0 408.8L336.4 409.5L334.6 409.8L332.8 409.6L331.1 409.0L329.5 408.0L328.3 406.7L327.2 405.2L326.5 403.6L326.0 401.8L325.7 400.0L325.8 398.1L326.2 396.3L327.0 394.6L328.1 393.2L329.6 392.1L331.2 391.3L332.9 390.8L334.6 390.7L336.3 390.9L338.0 391.3L339.6 392.1L341.1 393.1L342.3 394.6L343.2 396.3L343.6 398.1Z" fill="none" stroke="#999" stroke-width="0.5"/>
<path d="M342.9 400.0L342.7 401.7L342.3 403.4L341.5 404.9L340.6 406.3L339.3 407.4L337.8 408.3L336.3 408.8L334.6 408.9L333.0 408.6L331.4 408.1L330.0 407.2L328.8 406.1L327.7 404.8L326.9 403.4L326.3 401.7L326.1 400.0L326.2 398.2L326.7 396.6L327.6 395.0L328.7 393.7L330.0 392.7L331.4 392.0L333.0 391.5L334.6 391.3L336.2 391.4L337.8 391.8L339.3 392.6L340.6 393.7L341.6 395.0L342.4 396.6L342.8 398.3Z" fill="none" stroke="#999" stroke-width="0.5"/>
<path d="M342.9 400.0L342.7 401.7L342.1 403.3L341.2 404.6L340.0 405.7L338.7 406.6L337.4 407.2L336.0 407.6L334.6 407.8L333.1 407.8L331.7 407.4L330.3 406.8L329.1 405.8L328.1 404.6L327.4 403.2L326.9 401.6L326.7 400.0L326.8 398.4L327.2 396.8L327.9 395.3L328.9 394.0L330.2 393.1L331.6 392.5L333.1 392.2L334.6 392.2L336.0 392.5L337.4 393.0L338.7 393.6L339.9 394.4L341.1 395.4L342.0 396.8L342.7 398.3Z" fill="none" stroke="#999" stroke-width="0.5"/>
<path d="M341.6 400.0L341.5 401.5L341.2 402.9L340.5 404.2L339.6 405.3L338.5 406.2L337.3 406.8L336.0 407.2L334.6 407.3L333.3 407.1L332.0 406.7L330.7 406.1L329.6 405.3L328.7 404.2L328.0 402.9L327.6 401.5L327.4 400.0L327.6 398.5L328.1 397.2L328.8 395.9L329.7 394.9L330.8 393.9L332.0 393.3L333.2 392.8L334.6 392.6L336.0 392.7L337.3 393.1L338.5 393.8L339.6 394.7L340.4 395.9L341.1 397.2L341.5 398.6Z" fill="none" stroke="#111" stroke-width="1.0"/>
<path d="M340.4 400.0L340.2 401.2L339.9 402.3L339.5 403.4L338.8 404.5L338.0 405.4L337.0 406.0L335.8 406.4L334.6 406.4L333.4 406.2L332.4 405.7L331.4 405.0L330.6 404.3L329.8 403.4L329.2 402.4L328.7 401.2L328.5 400.0L328.6 398.7L328.9 397.5L329.6 396.5L330.4 395.6L331.4 394.9L332.4 394.4L333.5 394.0L334.6 393.8L335.8 393.9L336.9 394.1L338.0 394.6L338.9 395.4L339.6 396.4L340.1 397.6L340.3 398.8Z" fill="none" stroke="#111" stroke-width="1.0"/>
<path d="M339.7 400.0L339.6 401.0L339.3 402.0L338.7 402.9L338.0 403.6L337.3 404.2L336.4 404.6L335.5 404.8L334.6 404.9L333.7 404.9L332.8 404.6L331.9 404.2L331.2 403.6L330.5 402.9L330.0 402.0L329.7 401.0L329.6 400.0L329.7 399.0L330.0 398.0L330.5 397.1L331.1 396.3L331.9 395.7L332.8 395.3L333.7 395.1L334.6 395.1L335.5 395.2L336.4 395.5L337.2 395.9L338.0 396.4L338.7 397.1L339.2 398.0L339.6 399.0Z" fill="none" stroke="#111" stroke-width="1.0"/>
<path d="M338.4 400.0L338.4 400.8L338.2 401.6L337.8 402.3L337.3 402.8L336.7 403.3L336.0 403.6L335.3 403.8L334.6 403.9L333.9 403.9L333.2 403.7L332.5 403.4L331.9 402.9L331.4 402.3L331.0 401.6L330.9 400.8L330.8 400.0L330.9 399.2L331.2 398.5L331.5 397.8L331.9 397.2L332.5 396.7L333.1 396.3L333.9 396.0L334.6 396.0L335.3 396.1L336.0 396.3L336.7 396.7L337.2 397.2L337.7 397.8L338.1 398.5L338.3 399.2Z" fill="none" stroke="#111" stroke-width="1.0"/>
<path d="M337.3 400.0L337.3 400.6L337.1 401.1L336.8 401.6L336.5 402.0L336.1 402.4L335.6 402.6L335.1 402.8L334.6 402.8L334.1 402.8L333.6 402.6L333.1 402.3L332.7 402.0L332.4 401.6L332.1 401.1L331.9 400.6L331.8 400.0L331.9 399.4L332.0 398.9L332.3 398.4L332.7 398.0L333.1 397.7L333.6 397.4L334.1 397.3L334.6 397.2L335.1 397.3L335.6 397.4L336.1 397.6L336.5 398.0L336.9 398.4L337.1 398.9L337.3 399.4Z" fill="none" stroke="#555" stroke-width="0.5"/>
<path d="M335.9 400.0L335.9 400.3L335.8 400.5L335.7 400.8L335.6 401.0L335.4 401.2L335.1 401.4L334.9 401.5L334.6 401.5L334.3 401.4L334.1 401.3L333.9 401.2L333.7 401.0L333.5 400.7L333.4 400.5L333.3 400.3L333.3 400.0L333.3 399.7L333.3 399.4L333.4 399.2L333.6 398.9L333.8 398.8L334.1 398.7L334.3 398.6L334.6 398.6L334.9 398.6L335.1 398.7L335.3 398.8L335.5 399.0L335.7 399.2L335.9 399.5L335.9 399.7Z" fill="none" stroke="#555" stroke-width="0.5"/>
<circle cx="334.6" cy="400" r="1.6" fill="#eee"/>
<path d="M330.2 368.5C330.2 364.5 335 363.6 341 362.6C348 361 357 359.3 364 359.6C370 359.8 374.5 364 374.8 368C374.6 372.5 369 376.6 362 377C355 377.2 348 374.6 342 373.6C336 374.6 330.4 373.5 330.2 368.5Z" fill="none" stroke="#555" stroke-width="0.55"/>
<path d="M337 368.3C338 365.8 344 364.6 349 363.4C355 361.6 362 361 366.5 362.3C371 364 372.6 366.5 372.5 368.5C372 372 367 375 361 375.3C355 375.3 349 372.8 344 371.6C340 371 337 370.5 337 368.3Z" fill="none" stroke="#555" stroke-width="0.55"/>
<circle cx="333.6" cy="368.6" r="0.7" fill="#555"/>
<path d="M372.0 367.3L372.0 369.0L371.3 370.6L369.9 371.9L368.1 373.0L366.0 373.8L364.0 374.4L361.9 374.7L359.9 375.0L357.8 375.1L355.6 375.0L353.5 374.6L351.6 373.9L349.9 372.8L348.7 371.6L348.0 370.1L347.7 368.6L347.9 367.1L348.5 365.6L349.4 364.2L350.8 362.9L352.6 361.8L354.7 361.1L356.9 360.7L359.1 360.7L361.2 360.9L363.2 361.3L365.0 361.9L366.8 362.6L368.5 363.4L370.1 364.5L371.3 365.8Z" fill="none" stroke="#555" stroke-width="0.55"/>
<path d="M370.1 367.4L370.0 368.8L369.2 370.1L367.9 371.2L366.4 372.1L364.7 372.8L363.0 373.3L361.4 373.7L359.6 374.0L357.8 374.2L355.8 374.2L354.0 373.8L352.3 373.1L350.9 372.2L350.0 371.0L349.5 369.8L349.3 368.5L349.5 367.2L350.0 365.9L350.8 364.7L351.9 363.6L353.4 362.7L355.2 362.1L357.0 361.7L359.0 361.7L360.8 361.8L362.5 362.2L364.2 362.6L365.7 363.2L367.3 363.9L368.6 364.9L369.6 366.0Z" fill="none" stroke="#555" stroke-width="0.55"/>
<path d="M367.8 367.5L367.8 368.6L367.4 369.7L366.6 370.8L365.4 371.6L364.0 372.3L362.4 372.7L360.9 372.9L359.3 372.9L357.9 372.9L356.4 372.7L354.9 372.5L353.5 372.1L352.2 371.4L351.1 370.5L350.5 369.5L350.3 368.4L350.5 367.2L351.1 366.2L352.0 365.2L353.1 364.4L354.3 363.7L355.7 363.2L357.2 362.8L358.8 362.6L360.4 362.7L361.9 362.9L363.3 363.3L364.5 363.9L365.6 364.6L366.6 365.4L367.3 366.4Z" fill="none" stroke="#555" stroke-width="0.55"/>
<path d="M365.7 367.5L365.7 368.4L365.4 369.3L364.7 370.1L363.8 370.8L362.7 371.3L361.5 371.6L360.3 371.9L359.1 372.1L357.8 372.2L356.5 372.1L355.2 371.9L354.1 371.4L353.2 370.7L352.6 369.9L352.4 369.1L352.4 368.2L352.6 367.4L352.9 366.6L353.4 365.8L354.0 365.0L354.9 364.3L356.0 363.8L357.3 363.4L358.6 363.3L360.0 363.4L361.2 363.7L362.3 364.1L363.2 364.7L364.1 365.2L364.8 365.9L365.4 366.7Z" fill="none" stroke="#555" stroke-width="0.55"/>
<path d="M363.6 367.6L363.5 368.2L363.3 368.9L363.0 369.5L362.4 370.1L361.7 370.5L360.8 370.9L359.8 371.1L358.8 371.1L357.9 371.1L357.0 370.9L356.1 370.6L355.3 370.3L354.6 369.9L354.0 369.4L353.5 368.8L353.3 368.1L353.4 367.4L353.7 366.8L354.3 366.2L355.0 365.7L355.8 365.3L356.7 365.0L357.6 364.8L358.5 364.6L359.5 364.5L360.5 364.6L361.4 364.8L362.2 365.2L362.9 365.7L363.3 366.3L363.5 366.9Z" fill="none" stroke="#555" stroke-width="0.55"/>
<path d="M362.0 367.6L361.9 368.1L361.7 368.5L361.3 368.9L360.9 369.2L360.4 369.5L359.8 369.8L359.2 370.0L358.6 370.1L357.9 370.1L357.2 370.1L356.6 369.9L356.0 369.6L355.6 369.2L355.4 368.8L355.2 368.4L355.1 368.0L355.2 367.5L355.3 367.1L355.5 366.7L355.9 366.3L356.4 365.9L357.0 365.7L357.7 365.6L358.3 365.5L359.0 365.6L359.6 365.7L360.2 365.8L360.8 366.1L361.3 366.4L361.7 366.7L361.9 367.1Z" fill="none" stroke="#555" stroke-width="0.55"/>
<path d="M360.2 367.6L360.2 367.9L360.1 368.1L359.9 368.4L359.6 368.5L359.3 368.7L359.0 368.8L358.6 368.9L358.3 368.9L357.9 368.9L357.6 368.9L357.3 368.8L357.0 368.7L356.8 368.5L356.6 368.3L356.5 368.1L356.4 367.8L356.4 367.6L356.5 367.4L356.6 367.1L356.8 366.9L357.1 366.7L357.4 366.6L357.8 366.5L358.2 366.5L358.5 366.6L358.8 366.7L359.1 366.8L359.4 366.9L359.7 367.0L359.9 367.2L360.1 367.4Z" fill="none" stroke="#555" stroke-width="0.55"/>
<ellipse cx="360" cy="367.5" rx="9" ry="5.5" fill="#888" opacity="0.14" transform="rotate(0 360 367.5)"/>
<rect x="348.5" y="356.5" width="36" height="22" fill="none" stroke="#222" stroke-width="1"/>
<text xml:space="preserve" x="366.60" y="348.50" font-size="11.8" font-weight="bold" stroke="#111" stroke-width="0.3" text-anchor="middle" fill="#111">26.6</text>
<path d="M448.4 382.1h0.9M465.4 379.3h0.9M414.9 381.7h0.9M439.0 374.2h0.9M423.9 385.3h0.9M446.0 376.7h0.9M434.3 404.1h0.9M468.9 395.6h0.9M452.7 393.0h0.9M421.9 373.3h0.9M415.0 404.8h0.9M453.3 406.7h0.9M415.2 394.9h0.9M441.0 398.3h0.9" stroke="#cfcfcf" stroke-width="0.9" fill="none"/>
<ellipse cx="421.8" cy="396.8" rx="10" ry="9" fill="#444" opacity="0.38" transform="rotate(-15 421.8 396.8)"/>
<path d="M434.5 392.1L435.2 394.3L435.3 396.6L434.9 398.9L433.9 401.1L432.4 403.1L430.6 404.7L428.5 406.0L426.3 407.0L424.0 407.7L421.6 408.0L419.1 407.9L416.7 407.4L414.6 406.4L412.7 404.9L411.4 403.0L410.5 400.9L410.1 398.6L410.2 396.4L410.7 394.2L411.5 392.0L412.7 390.0L414.3 388.1L416.2 386.6L418.5 385.5L420.9 384.9L423.4 384.8L425.8 385.1L428.1 385.9L430.1 387.1L431.9 388.5L433.3 390.2Z" fill="none" stroke="#999" stroke-width="0.5"/>
<path d="M432.6 392.8L433.2 394.6L433.6 396.6L433.5 398.7L432.9 400.7L431.7 402.6L430.1 404.3L428.2 405.5L426.1 406.4L423.9 406.9L421.7 407.1L419.5 406.8L417.4 406.2L415.5 405.2L413.9 403.8L412.8 402.2L412.0 400.3L411.7 398.4L411.8 396.4L412.1 394.4L412.7 392.5L413.7 390.6L415.0 388.8L416.7 387.3L418.7 386.1L421.0 385.5L423.4 385.4L425.6 385.9L427.6 386.9L429.2 388.1L430.6 389.6L431.7 391.2Z" fill="none" stroke="#999" stroke-width="0.5"/>
<path d="M410.9 397.0C410.8 394.7 411.4 392.2 412.4 390.5C413.4 388.7 415.3 387.4 417.0 386.5C418.8 385.6 421.0 385.3 423.0 385.0C425.0 384.6 427.2 384.1 429.1 384.4C430.9 384.7 433.0 385.7 434.1 386.9C435.2 388.2 435.7 390.2 435.8 392.0C435.9 393.9 435.4 396.0 434.6 398.0C433.8 400.0 432.7 402.4 431.1 404.1C429.5 405.7 427.2 407.3 425.0 408.0C422.8 408.8 420.0 409.1 418.0 408.5C416.0 407.9 414.2 406.4 413.0 404.5C411.8 402.6 411.0 399.3 410.9 397.0Z" fill="none" stroke="#888" stroke-width="0.5"/>
<path d="M411.8 397.0C411.7 394.8 412.2 392.5 413.2 390.9C414.1 389.3 415.8 388.1 417.4 387.3C419.1 386.4 421.1 386.1 423.0 385.8C424.8 385.4 426.9 384.9 428.6 385.2C430.3 385.5 432.2 386.4 433.3 387.6C434.3 388.8 434.9 390.6 434.9 392.3C435.0 394.0 434.4 396.0 433.6 397.9C432.9 399.8 431.9 402.0 430.4 403.5C429.0 405.1 426.8 406.5 424.8 407.2C422.8 407.9 420.2 408.2 418.3 407.6C416.4 407.1 414.7 405.8 413.6 404.0C412.5 402.2 411.9 399.1 411.8 397.0Z" fill="none" stroke="#888" stroke-width="0.5"/>
<path d="M431.3 393.5L431.8 395.3L432.0 397.1L431.8 399.0L431.2 400.8L430.1 402.5L428.7 404.0L426.9 405.1L425.0 405.9L423.0 406.2L421.1 406.3L419.1 406.1L417.3 405.6L415.5 404.8L413.9 403.7L412.6 402.3L411.8 400.7L411.3 398.8L411.4 396.9L411.9 395.0L412.7 393.3L413.9 391.7L415.2 390.3L416.8 389.1L418.6 388.1L420.5 387.5L422.6 387.2L424.6 387.4L426.5 388.1L428.2 389.1L429.5 390.4L430.6 391.9Z" fill="none" stroke="#222" stroke-width="0.8"/>
<path d="M430.6 393.8L430.8 395.4L430.6 397.1L430.1 398.6L429.4 400.1L428.5 401.4L427.4 402.6L426.1 403.7L424.6 404.7L422.9 405.4L421.1 405.7L419.3 405.6L417.5 405.1L416.0 404.2L414.8 403.0L413.9 401.6L413.4 400.1L413.1 398.5L413.2 396.9L413.4 395.3L414.0 393.8L414.9 392.4L416.0 391.1L417.4 390.1L419.0 389.3L420.7 388.8L422.5 388.6L424.2 388.7L426.0 389.1L427.5 389.9L428.9 390.9L429.9 392.3Z" fill="none" stroke="#222" stroke-width="0.8"/>
<path d="M429.0 394.4L429.3 395.7L429.4 397.1L429.1 398.4L428.6 399.8L427.8 401.0L426.8 402.1L425.6 403.0L424.2 403.7L422.7 404.1L421.2 404.2L419.7 404.1L418.3 403.6L417.0 402.9L416.0 402.0L415.1 400.9L414.6 399.6L414.3 398.3L414.3 396.9L414.5 395.6L415.0 394.2L415.8 393.0L416.8 391.9L418.0 391.0L419.4 390.3L420.9 389.9L422.4 389.8L423.9 389.9L425.3 390.4L426.6 391.1L427.6 392.0L428.5 393.1Z" fill="none" stroke="#222" stroke-width="0.8"/>
<path d="M427.9 394.8L428.1 395.9L428.2 397.1L427.9 398.2L427.5 399.3L426.8 400.3L426.0 401.2L424.9 401.9L423.8 402.4L422.6 402.8L421.3 402.9L420.1 402.7L418.9 402.4L417.9 401.9L416.9 401.2L416.2 400.3L415.6 399.2L415.4 398.1L415.4 396.9L415.6 395.8L416.1 394.7L416.8 393.7L417.7 392.8L418.7 392.1L419.8 391.6L421.0 391.2L422.3 391.1L423.5 391.2L424.7 391.5L425.8 392.1L426.7 392.8L427.4 393.7Z" fill="none" stroke="#222" stroke-width="0.8"/>
<path d="M426.4 395.3L426.6 396.2L426.7 397.0L426.7 398.0L426.5 398.9L426.0 399.8L425.3 400.6L424.4 401.2L423.4 401.5L422.4 401.6L421.4 401.6L420.5 401.4L419.6 401.1L418.8 400.7L418.1 400.2L417.4 399.6L416.9 398.8L416.6 397.9L416.6 396.9L416.8 396.0L417.2 395.1L417.8 394.3L418.5 393.7L419.3 393.1L420.2 392.7L421.2 392.3L422.2 392.2L423.2 392.3L424.1 392.6L424.9 393.1L425.6 393.8L426.1 394.5Z" fill="none" stroke="#222" stroke-width="0.8"/>
<path d="M425.4 395.7L425.5 396.4L425.5 397.0L425.4 397.7L425.2 398.4L424.8 399.0L424.3 399.5L423.7 399.9L423.0 400.2L422.3 400.4L421.5 400.4L420.8 400.4L420.1 400.2L419.5 399.9L418.9 399.5L418.5 398.9L418.1 398.3L418.0 397.7L418.0 397.0L418.1 396.3L418.5 395.6L418.9 395.1L419.4 394.6L420.0 394.2L420.6 393.8L421.3 393.6L422.1 393.5L422.8 393.5L423.5 393.7L424.2 394.1L424.7 394.5L425.1 395.1Z" fill="none" stroke="#222" stroke-width="0.8"/>
<path d="M424.1 396.2L424.2 396.6L424.3 397.0L424.2 397.5L424.1 397.9L423.8 398.4L423.5 398.7L423.1 399.0L422.6 399.2L422.1 399.3L421.6 399.3L421.1 399.3L420.7 399.1L420.3 398.9L419.9 398.6L419.7 398.2L419.5 397.8L419.4 397.4L419.3 397.0L419.4 396.5L419.6 396.1L419.8 395.7L420.1 395.3L420.5 395.0L421.0 394.7L421.5 394.6L422.0 394.6L422.5 394.7L422.9 394.9L423.3 395.1L423.6 395.4L423.9 395.8Z" fill="none" stroke="#666" stroke-width="0.5"/>
<path d="M423.0 396.6L423.1 396.8L423.0 397.0L423.0 397.2L422.9 397.4L422.8 397.6L422.6 397.8L422.4 398.0L422.2 398.1L422.0 398.2L421.7 398.2L421.5 398.2L421.2 398.1L421.0 398.0L420.9 397.8L420.7 397.6L420.6 397.4L420.6 397.2L420.6 397.0L420.6 396.8L420.7 396.5L420.8 396.3L421.0 396.2L421.2 396.0L421.4 395.9L421.6 395.9L421.9 395.8L422.1 395.9L422.4 395.9L422.6 396.0L422.8 396.2L422.9 396.4Z" fill="none" stroke="#666" stroke-width="0.5"/>
<circle cx="421.6" cy="397" r="1.3" fill="#e8e8e8"/>
<path d="M465.8 370.1L465.7 372.2L465.4 374.3L464.6 376.4L463.4 378.3L461.8 379.7L460.0 380.6L458.1 380.9L456.2 380.6L454.5 380.0L452.9 379.0L451.4 377.8L450.2 376.4L449.1 374.7L448.3 372.8L447.9 370.7L448.0 368.5L448.4 366.4L449.2 364.4L450.2 362.6L451.4 361.0L452.9 359.6L454.5 358.5L456.3 357.7L458.2 357.5L460.1 357.8L461.9 358.8L463.3 360.3L464.3 362.1L465.0 364.1L465.5 366.0L465.7 368.0Z" fill="none" stroke="#666" stroke-width="0.6"/>
<path d="M465.6 370.0L465.2 372.0L464.5 373.8L463.5 375.3L462.3 376.6L460.9 377.6L459.4 378.2L457.9 378.6L456.4 378.7L454.8 378.5L453.4 377.9L452.0 377.0L450.8 375.8L449.9 374.2L449.2 372.4L449.0 370.5L449.0 368.6L449.4 366.7L450.0 364.9L451.0 363.3L452.1 361.9L453.4 360.9L454.9 360.2L456.5 359.8L458.0 359.8L459.5 360.1L461.0 360.8L462.3 361.8L463.5 363.0L464.4 364.5L465.1 366.2L465.5 368.1Z" fill="none" stroke="#666" stroke-width="0.6"/>
<path d="M464.4 369.9L464.0 371.6L463.4 373.1L462.5 374.4L461.5 375.5L460.3 376.4L459.1 377.0L457.8 377.3L456.5 377.4L455.2 377.2L454.0 376.6L452.9 375.7L451.9 374.6L451.2 373.4L450.6 371.9L450.3 370.3L450.2 368.7L450.4 367.0L450.9 365.4L451.7 364.0L452.7 362.9L454.0 362.0L455.3 361.6L456.6 361.4L457.9 361.5L459.1 361.8L460.3 362.3L461.5 363.0L462.5 363.9L463.4 365.1L464.1 366.6L464.4 368.2Z" fill="none" stroke="#666" stroke-width="0.6"/>
<path d="M463.3 369.1L463.0 370.8L462.6 372.5L461.9 373.9L461.0 375.0L460.0 375.9L459.0 376.4L458.0 376.6L457.0 376.7L456.0 376.5L455.0 376.2L454.0 375.7L453.0 374.8L452.2 373.6L451.6 372.1L451.2 370.3L451.3 368.5L451.7 366.7L452.3 365.2L453.1 363.9L454.0 362.9L454.9 362.1L455.8 361.5L456.8 361.0L457.8 360.7L458.9 360.7L459.9 361.0L461.0 361.7L461.8 362.7L462.5 364.1L463.0 365.6L463.3 367.3Z" fill="none" stroke="#666" stroke-width="0.6"/>
<path d="M461.7 368.6L461.6 369.9L461.3 371.2L460.9 372.4L460.3 373.4L459.5 374.1L458.7 374.5L457.9 374.6L457.1 374.6L456.3 374.3L455.6 373.8L455.0 373.2L454.4 372.5L453.9 371.6L453.5 370.6L453.3 369.4L453.1 368.2L453.2 366.9L453.5 365.6L453.9 364.4L454.5 363.5L455.3 362.8L456.1 362.3L456.9 362.2L457.7 362.2L458.5 362.5L459.2 363.0L459.8 363.6L460.4 364.3L460.9 365.2L461.3 366.2L461.5 367.4Z" fill="none" stroke="#666" stroke-width="0.6"/>
<path d="M460.0 368.2L459.8 368.9L459.6 369.6L459.4 370.3L459.1 371.0L458.7 371.6L458.3 372.1L457.7 372.3L457.2 372.4L456.6 372.2L456.1 371.8L455.7 371.3L455.4 370.7L455.2 370.1L454.9 369.4L454.8 368.7L454.7 367.9L454.8 367.1L454.9 366.3L455.2 365.6L455.6 365.0L456.1 364.5L456.6 364.2L457.1 364.0L457.6 364.0L458.1 364.0L458.7 364.2L459.1 364.5L459.5 365.1L459.8 365.8L460.0 366.5L460.0 367.4Z" fill="none" stroke="#666" stroke-width="0.6"/>
<path d="M458.6 367.7L458.6 368.1L458.5 368.4L458.4 368.8L458.2 369.1L458.0 369.3L457.8 369.4L457.5 369.5L457.3 369.5L457.1 369.4L456.9 369.3L456.7 369.1L456.5 368.9L456.4 368.6L456.3 368.3L456.2 367.9L456.2 367.6L456.2 367.2L456.3 366.8L456.4 366.5L456.6 366.2L456.8 366.0L457.0 365.8L457.3 365.7L457.5 365.7L457.7 365.8L457.9 366.0L458.1 366.2L458.3 366.4L458.4 366.7L458.5 367.0L458.6 367.3Z" fill="none" stroke="#666" stroke-width="0.6"/>
<ellipse cx="457.2" cy="369" rx="6" ry="8" fill="#999" opacity="0.15" transform="rotate(0 457.2 369)"/>
<path d="M454.5 381.9C455.2 381.1 457.2 381.1 458.5 381.1C459.8 381.1 461.4 381.3 462.5 382.1C463.6 383.0 464.2 384.6 465.0 386.1C465.7 387.6 466.3 389.3 466.8 391.0C467.3 392.6 467.7 394.3 468.0 396.0C468.2 397.7 468.7 399.3 468.3 401.0C468.0 402.7 467.4 404.8 466.0 406.0C464.6 407.3 462.0 408.6 460.0 408.6C458.0 408.6 455.3 407.3 453.9 406.1C452.6 404.8 452.0 402.7 451.8 401.0C451.5 399.3 452.1 397.7 452.5 396.0C453.0 394.4 454.2 392.7 454.5 391.0C454.8 389.3 454.3 387.6 454.3 386.1C454.3 384.6 453.8 382.7 454.5 381.9Z" fill="none" stroke="#777" stroke-width="0.55"/>
<path d="M455.3 384.5C455.9 383.8 457.6 383.6 458.7 383.5C459.9 383.5 461.2 383.6 462.2 384.3C463.1 385.0 463.7 386.6 464.3 387.9C464.9 389.2 465.4 390.7 465.8 392.2C466.3 393.6 466.6 395.0 466.9 396.4C467.1 397.9 467.4 399.3 467.2 400.7C466.9 402.2 466.4 403.9 465.2 405.0C464.0 406.1 461.7 407.2 460.0 407.2C458.3 407.2 456.0 406.1 454.8 405.1C453.6 404.0 453.2 402.2 453.0 400.7C452.7 399.3 453.1 397.8 453.5 396.4C453.9 395.0 455.0 393.5 455.2 392.1C455.5 390.6 455.1 389.2 455.1 387.9C455.2 386.7 454.7 385.3 455.3 384.5Z" fill="none" stroke="#777" stroke-width="0.55"/>
<path d="M466.3 401.0L466.2 402.2L465.9 403.4L465.4 404.5L464.6 405.5L463.6 406.3L462.5 406.9L461.3 407.2L460.0 407.2L458.8 407.0L457.6 406.6L456.5 406.0L455.6 405.3L454.8 404.4L454.1 403.4L453.7 402.2L453.5 401.0L453.6 399.8L454.0 398.6L454.7 397.5L455.5 396.6L456.5 395.9L457.6 395.3L458.8 395.0L460.0 394.8L461.3 394.9L462.5 395.2L463.6 395.8L464.6 396.6L465.3 397.6L465.8 398.7L466.2 399.8Z" fill="none" stroke="#666" stroke-width="0.6"/>
<path d="M465.2 401.0L465.1 402.0L464.9 403.0L464.4 403.9L463.8 404.7L463.0 405.3L462.0 405.8L461.0 406.1L460.0 406.1L459.0 406.0L458.0 405.8L457.0 405.3L456.2 404.7L455.5 403.9L455.0 403.0L454.7 402.0L454.7 401.0L454.9 400.0L455.3 399.1L455.8 398.3L456.4 397.5L457.1 396.8L458.0 396.3L458.9 395.8L460.0 395.7L461.1 395.7L462.1 396.0L463.0 396.6L463.8 397.3L464.4 398.2L464.8 399.1L465.1 400.0Z" fill="none" stroke="#666" stroke-width="0.6"/>
<path d="M464.0 401.0L464.0 401.8L463.9 402.6L463.6 403.4L463.2 404.1L462.5 404.7L461.7 405.1L460.9 405.3L460.0 405.3L459.2 405.1L458.4 404.7L457.7 404.3L457.1 403.8L456.6 403.2L456.2 402.5L456.0 401.8L455.8 401.0L455.9 400.2L456.1 399.4L456.4 398.7L456.9 398.0L457.6 397.5L458.3 397.0L459.1 396.8L460.0 396.7L460.9 396.8L461.7 397.1L462.3 397.6L462.9 398.2L463.3 398.8L463.7 399.5L463.9 400.3Z" fill="none" stroke="#666" stroke-width="0.6"/>
<path d="M463.2 401.0L463.1 401.6L462.9 402.2L462.6 402.7L462.2 403.1L461.7 403.5L461.2 403.8L460.6 404.0L460.0 404.2L459.3 404.2L458.7 404.0L458.1 403.7L457.6 403.3L457.3 402.8L457.1 402.2L457.0 401.6L457.0 401.0L457.1 400.4L457.3 399.9L457.5 399.4L457.8 398.8L458.2 398.4L458.7 398.0L459.4 397.8L460.0 397.8L460.6 397.9L461.2 398.1L461.8 398.4L462.2 398.8L462.6 399.3L462.9 399.8L463.1 400.4Z" fill="none" stroke="#666" stroke-width="0.6"/>
<path d="M462.0 401.0L462.0 401.4L461.9 401.8L461.7 402.1L461.5 402.5L461.2 402.7L460.8 403.0L460.4 403.1L460.0 403.1L459.6 403.0L459.2 402.8L458.9 402.6L458.6 402.4L458.3 402.1L458.0 401.8L457.9 401.4L457.8 401.0L457.9 400.6L458.0 400.2L458.3 399.9L458.6 399.6L458.9 399.4L459.2 399.2L459.6 399.0L460.0 399.0L460.4 399.0L460.8 399.0L461.2 399.2L461.5 399.5L461.8 399.8L461.9 400.2L462.0 400.6Z" fill="none" stroke="#666" stroke-width="0.6"/>
<path d="M461.0 401.0L461.0 401.2L461.0 401.4L460.9 401.6L460.8 401.7L460.6 401.9L460.4 401.9L460.2 402.0L460.0 402.0L459.8 401.9L459.6 401.9L459.4 401.8L459.3 401.7L459.1 401.6L459.0 401.4L459.0 401.2L459.0 401.0L459.0 400.8L459.1 400.6L459.2 400.5L459.3 400.3L459.4 400.2L459.6 400.1L459.8 400.0L460.0 400.0L460.2 400.0L460.4 400.1L460.6 400.2L460.7 400.3L460.8 400.5L460.9 400.6L461.0 400.8Z" fill="none" stroke="#666" stroke-width="0.6"/>
<ellipse cx="460" cy="401" rx="5.5" ry="5.3" fill="#888" opacity="0.3" transform="rotate(0 460 401)"/>
<circle cx="460" cy="401" r="1.2" fill="#e5e5e5"/>
<rect x="446.5" y="357.5" width="23" height="24" fill="none" stroke="#222" stroke-width="1"/>
<text xml:space="preserve" x="459.50" y="347.50" font-size="11.8" font-weight="bold" stroke="#111" stroke-width="0.3" text-anchor="middle" fill="#111">13</text>
<text xml:space="preserve" x="259.90" y="510.50" font-size="24.8" font-weight="bold" stroke="#111" stroke-width="0.3" text-anchor="start" fill="#111">F</text>
<text xml:space="preserve" x="372.80" y="521.50" font-size="14.2" text-anchor="middle" fill="#111">TCD BM</text>
<text xml:space="preserve" x="372.60" y="538.00" font-size="14.2" text-anchor="middle" fill="#111">+</text>
<text xml:space="preserve" x="373.10" y="557.00" font-size="14.2" text-anchor="middle" fill="#111">Memory total  T</text>
<rect x="329" y="571.5" width="88.2" height="89.3" fill="none" stroke="#9c9c9c" stroke-width="1.2"/>
<text xml:space="preserve" x="302.30" y="614.50" font-size="14.8" text-anchor="middle" fill="#111" transform="rotate(-90 302.30 614.50)">BCL<tspan dy="3.5" font-size="9.5">1</tspan><tspan dy="-3.5">Id</tspan></text>
<text xml:space="preserve" x="373.10" y="687.20" font-size="14.6" text-anchor="middle" fill="#111">CD19</text>
<text x="326.10" y="584.00" font-size="8.5" font-weight="bold" stroke="#111" stroke-width="0.3" text-anchor="end" fill="#111">10<tspan dy="-3.2" font-size="5.9">5</tspan></text>
<text x="326.10" y="603.90" font-size="8.5" font-weight="bold" stroke="#111" stroke-width="0.3" text-anchor="end" fill="#111">10<tspan dy="-3.2" font-size="5.9">4</tspan></text>
<text x="326.10" y="624.30" font-size="8.5" font-weight="bold" stroke="#111" stroke-width="0.3" text-anchor="end" fill="#111">10<tspan dy="-3.2" font-size="5.9">3</tspan></text>
<text x="326.10" y="645.30" font-size="8.5" font-weight="bold" stroke="#111" stroke-width="0.3" text-anchor="end" fill="#111">10<tspan dy="-3.2" font-size="5.9">2</tspan></text>
<text xml:space="preserve" x="325.60" y="654.60" font-size="8.5" font-weight="bold" stroke="#111" stroke-width="0.3" text-anchor="end" fill="#111">0</text>
<text xml:space="preserve" x="334.30" y="673.40" font-size="8.5" font-weight="bold" stroke="#111" stroke-width="0.3" text-anchor="middle" fill="#111">0</text>
<text x="348.70" y="673.40" font-size="8.5" font-weight="bold" stroke="#111" stroke-width="0.3" text-anchor="middle" fill="#111">10<tspan dy="-3.2" font-size="5.9">2</tspan></text>
<text x="369.30" y="673.40" font-size="8.5" font-weight="bold" stroke="#111" stroke-width="0.3" text-anchor="middle" fill="#111">10<tspan dy="-3.2" font-size="5.9">3</tspan></text>
<text x="389.30" y="673.40" font-size="8.5" font-weight="bold" stroke="#111" stroke-width="0.3" text-anchor="middle" fill="#111">10<tspan dy="-3.2" font-size="5.9">4</tspan></text>
<text x="408.70" y="673.40" font-size="8.5" font-weight="bold" stroke="#111" stroke-width="0.3" text-anchor="middle" fill="#111">10<tspan dy="-3.2" font-size="5.9">5</tspan></text>
<clipPath id="cf"><rect x="329" y="571.5" width="88.2" height="89.3"/></clipPath><g clip-path="url(#cf)">
<path d="M357.7 651.0h0.9M398.9 619.5h0.9M339.4 624.7h0.9M375.4 643.0h0.9M370.5 601.6h0.9M395.3 603.6h0.9M394.6 609.7h0.9M358.8 644.1h0.9M343.8 608.3h0.9M372.8 640.5h0.9M397.7 638.6h0.9M405.8 627.6h0.9M406.1 604.8h0.9M350.0 629.5h0.9M355.3 640.8h0.9M382.2 629.3h0.9M398.0 631.4h0.9M357.0 621.3h0.9M398.1 650.4h0.9M349.0 647.6h0.9M407.6 629.4h0.9M377.1 611.3h0.9" stroke="#cacaca" stroke-width="0.9" fill="none"/>
<path d="M330.5 651.0C330.3 648.9 330.9 646.2 332.0 644.5C333.1 642.8 335.1 641.8 337.0 641.0C338.8 640.2 341.1 640.5 343.0 639.7C344.8 638.8 346.4 636.4 348.1 635.8C349.8 635.1 351.7 635.2 353.0 636.0C354.4 636.8 355.7 638.7 356.2 640.5C356.8 642.4 356.9 644.9 356.2 647.0C355.5 649.1 353.7 651.3 352.0 653.0C350.3 654.8 348.2 656.4 346.0 657.5C343.8 658.6 341.1 659.6 339.0 659.6C336.8 659.6 334.6 658.8 333.2 657.4C331.7 655.9 330.7 653.1 330.5 651.0Z" fill="none" stroke="#777" stroke-width="0.55"/>
<path d="M331.9 650.8C331.7 648.9 332.3 646.5 333.2 645.1C334.2 643.6 335.9 642.6 337.5 641.8C339.1 641.1 341.3 641.2 342.9 640.5C344.5 639.8 345.8 638.2 347.2 637.7C348.7 637.2 350.5 636.9 351.7 637.6C352.9 638.2 354.0 640.0 354.4 641.6C354.8 643.2 354.9 645.4 354.3 647.2C353.7 649.1 352.4 651.0 350.9 652.6C349.5 654.1 347.5 655.7 345.6 656.6C343.7 657.5 341.3 658.3 339.4 658.2C337.5 658.2 335.4 657.7 334.1 656.4C332.9 655.2 332.0 652.7 331.9 650.8Z" fill="none" stroke="#666" stroke-width="0.55"/>
<path d="M354.1 646.6L353.3 647.7L352.4 648.7L351.3 649.4L350.2 649.8L349.1 650.0L348.0 649.9L347.1 649.6L346.2 649.2L345.5 648.5L344.9 647.8L344.4 646.9L344.0 645.9L343.7 644.8L343.7 643.6L344.0 642.3L344.5 641.0L345.2 639.8L346.2 638.9L347.3 638.2L348.4 637.8L349.5 637.6L350.6 637.8L351.5 638.1L352.4 638.5L353.1 639.1L353.8 639.8L354.3 640.6L354.7 641.6L354.9 642.8L354.9 644.0L354.6 645.3Z" fill="none" stroke="#666" stroke-width="0.55"/>
<path d="M352.3 645.5L351.8 646.3L351.3 646.9L350.6 647.4L349.9 647.8L349.1 648.0L348.4 648.1L347.7 647.9L347.1 647.7L346.5 647.3L346.1 646.7L345.7 646.0L345.5 645.3L345.5 644.5L345.6 643.7L345.9 642.8L346.3 642.1L346.8 641.4L347.4 640.8L348.0 640.3L348.7 639.9L349.5 639.6L350.2 639.5L350.9 639.6L351.6 639.8L352.1 640.3L352.6 640.9L352.8 641.6L353.0 642.3L353.0 643.1L352.9 643.9L352.6 644.7Z" fill="none" stroke="#666" stroke-width="0.55"/>
<path d="M350.9 644.7L350.6 645.1L350.3 645.4L349.9 645.6L349.6 645.8L349.2 645.9L348.8 646.0L348.5 646.0L348.1 645.9L347.8 645.7L347.5 645.4L347.4 645.0L347.3 644.6L347.4 644.2L347.5 643.7L347.6 643.3L347.8 642.9L348.0 642.6L348.3 642.2L348.6 641.9L349.0 641.7L349.4 641.6L349.8 641.5L350.1 641.6L350.5 641.8L350.7 642.0L351.0 642.3L351.1 642.7L351.2 643.0L351.3 643.4L351.2 643.9L351.1 644.3Z" fill="none" stroke="#666" stroke-width="0.55"/>
<path d="M347.8 650.2L346.8 651.2L345.7 652.2L344.5 652.9L343.3 653.5L342.1 653.7L340.9 653.7L340.0 653.3L339.2 652.7L338.6 651.9L338.2 651.0L338.0 649.9L338.0 648.7L338.2 647.5L338.6 646.2L339.2 644.9L340.1 643.7L341.1 642.6L342.3 641.7L343.5 641.1L344.7 640.7L345.8 640.5L346.9 640.6L347.9 640.8L348.8 641.3L349.5 642.0L350.0 642.9L350.2 644.0L350.2 645.2L349.9 646.5L349.3 647.8L348.6 649.0Z" fill="none" stroke="#555" stroke-width="0.55"/>
<path d="M347.2 649.7L346.4 650.6L345.4 651.3L344.4 651.8L343.4 652.0L342.5 652.1L341.7 652.0L341.0 651.8L340.3 651.4L339.7 650.9L339.3 650.2L339.1 649.4L339.0 648.5L339.2 647.4L339.6 646.4L340.2 645.3L340.9 644.4L341.7 643.5L342.6 642.8L343.6 642.3L344.6 641.9L345.5 641.7L346.4 641.8L347.1 642.1L347.8 642.5L348.2 643.1L348.6 643.9L348.8 644.7L348.8 645.6L348.7 646.6L348.4 647.6L347.9 648.7Z" fill="none" stroke="#555" stroke-width="0.55"/>
<ellipse cx="337.6" cy="650.5" rx="7" ry="6.3" fill="#111" opacity="0.8" transform="rotate(-15 337.6 650.5)"/>
<path d="M345.7 648.2L345.8 649.6L345.6 651.0L345.1 652.4L344.4 653.7L343.5 654.8L342.4 655.8L341.1 656.6L339.6 657.2L338.1 657.5L336.6 657.6L335.0 657.3L333.6 656.8L332.3 656.0L331.2 655.0L330.4 653.8L330.0 652.4L329.8 651.0L329.9 649.5L330.4 648.2L331.1 646.9L332.1 645.8L333.2 644.8L334.6 644.1L336.0 643.5L337.5 643.2L339.0 643.1L340.6 643.3L342.0 643.8L343.3 644.6L344.4 645.6L345.2 646.8Z" fill="none" stroke="#111" stroke-width="1.0"/>
<path d="M344.5 648.5L344.6 649.7L344.5 650.9L344.2 652.1L343.6 653.3L342.8 654.3L341.8 655.1L340.6 655.7L339.4 656.1L338.1 656.3L336.8 656.2L335.6 656.0L334.4 655.6L333.3 655.0L332.3 654.2L331.5 653.3L330.9 652.1L330.7 650.9L330.8 649.6L331.3 648.4L332.0 647.3L332.9 646.4L334.0 645.7L335.1 645.1L336.3 644.6L337.5 644.4L338.8 644.3L340.1 644.4L341.4 644.8L342.5 645.5L343.4 646.3L344.1 647.4Z" fill="none" stroke="#111" stroke-width="1.0"/>
<path d="M343.0 648.9L343.2 649.8L343.2 650.8L343.0 651.8L342.7 652.8L342.1 653.7L341.2 654.4L340.3 655.0L339.2 655.4L338.0 655.5L336.9 655.4L335.9 655.1L335.0 654.6L334.2 654.0L333.5 653.4L333.0 652.6L332.5 651.7L332.3 650.8L332.3 649.8L332.5 648.8L332.9 647.8L333.6 647.0L334.4 646.2L335.4 645.7L336.5 645.3L337.6 645.1L338.7 645.2L339.7 645.5L340.7 645.9L341.5 646.5L342.1 647.2L342.6 648.0Z" fill="none" stroke="#111" stroke-width="1.0"/>
<path d="M341.8 649.2L342.0 649.9L342.0 650.7L341.8 651.5L341.6 652.2L341.1 652.9L340.5 653.5L339.7 654.0L338.9 654.3L338.0 654.4L337.1 654.4L336.3 654.2L335.5 653.8L334.9 653.3L334.3 652.8L333.9 652.1L333.7 651.4L333.6 650.7L333.6 649.9L333.8 649.2L334.1 648.4L334.6 647.7L335.2 647.1L335.9 646.6L336.7 646.3L337.6 646.1L338.5 646.2L339.4 646.4L340.1 646.8L340.7 647.3L341.2 647.9L341.6 648.5Z" fill="none" stroke="#111" stroke-width="1.0"/>
<circle cx="337" cy="651" r="1.3" fill="#777"/>
<path d="M373.0 639.1C374.4 639.1 376.3 640.1 377.6 641.2C378.8 642.4 379.4 644.5 380.4 646.1C381.4 647.7 383.1 649.3 383.7 650.9C384.4 652.6 384.7 654.2 384.4 656.0C384.1 657.9 383.7 660.4 381.8 661.9C380.0 663.3 376.3 664.8 373.5 664.9C370.7 664.9 366.7 663.6 364.9 662.1C363.1 660.6 363.1 657.8 362.9 656.0C362.7 654.1 363.1 652.8 363.7 651.1C364.3 649.4 365.5 647.4 366.4 645.9C367.3 644.3 367.9 642.7 369.0 641.6C370.1 640.4 371.6 639.2 373.0 639.1Z" fill="none" stroke="#666" stroke-width="0.6"/>
<path d="M373.1 640.5C374.3 640.5 375.9 642.0 377.0 643.1C378.1 644.2 378.8 645.6 379.7 647.0C380.6 648.3 382.0 649.9 382.5 651.3C383.0 652.8 383.1 654.2 382.8 655.8C382.6 657.4 382.5 659.7 381.0 661.1C379.4 662.5 376.0 663.9 373.5 664.0C371.0 664.0 367.4 662.7 365.8 661.3C364.1 660.0 363.9 657.5 363.7 655.9C363.6 654.2 364.2 652.9 364.8 651.4C365.3 649.9 366.5 648.4 367.3 646.9C368.0 645.5 368.5 643.8 369.4 642.7C370.4 641.7 371.8 640.4 373.1 640.5Z" fill="none" stroke="#666" stroke-width="0.6"/>
<path d="M373.1 642.3C374.2 642.3 375.7 643.3 376.7 644.2C377.7 645.1 378.2 646.7 378.9 647.9C379.7 649.2 380.7 650.5 381.2 651.8C381.7 653.1 382.0 654.2 381.8 655.7C381.6 657.1 381.4 659.1 380.0 660.3C378.7 661.4 375.7 662.7 373.5 662.8C371.3 662.8 368.2 661.6 366.8 660.4C365.4 659.2 365.3 657.1 365.1 655.7C364.9 654.2 365.3 653.1 365.8 651.8C366.3 650.5 367.4 649.2 368.1 647.9C368.8 646.7 369.2 645.4 370.0 644.4C370.9 643.5 372.0 642.4 373.1 642.3Z" fill="none" stroke="#666" stroke-width="0.6"/>
<path d="M373.2 643.8C374.2 643.8 375.4 644.7 376.3 645.5C377.2 646.3 377.7 647.5 378.4 648.6C379.0 649.7 379.8 651.0 380.2 652.2C380.5 653.3 380.7 654.2 380.6 655.5C380.5 656.7 380.6 658.7 379.4 659.7C378.2 660.7 375.5 661.6 373.5 661.6C371.6 661.6 368.9 660.7 367.7 659.6C366.5 658.6 366.5 656.8 366.3 655.5C366.2 654.3 366.4 653.3 366.8 652.1C367.2 651.0 368.2 649.8 368.8 648.7C369.4 647.7 369.8 646.5 370.5 645.7C371.2 644.9 372.2 643.9 373.2 643.8Z" fill="none" stroke="#666" stroke-width="0.6"/>
<path d="M373.3 645.6C374.0 645.6 375.0 646.6 375.8 647.3C376.5 647.9 377.0 648.7 377.6 649.6C378.2 650.5 379.0 651.5 379.3 652.5C379.7 653.4 379.7 654.3 379.5 655.3C379.4 656.4 379.4 657.9 378.4 658.8C377.4 659.6 375.2 660.6 373.5 660.6C371.9 660.6 369.7 659.6 368.7 658.8C367.7 657.9 367.7 656.4 367.5 655.3C367.4 654.3 367.6 653.5 367.9 652.5C368.3 651.6 369.0 650.5 369.6 649.7C370.1 648.8 370.4 647.9 371.0 647.3C371.7 646.6 372.5 645.6 373.3 645.6Z" fill="none" stroke="#666" stroke-width="0.6"/>
<path d="M373.3 647.2C374.0 647.2 374.8 647.8 375.4 648.4C376.0 649.0 376.4 649.8 376.8 650.5C377.3 651.3 378.0 652.1 378.3 652.9C378.5 653.6 378.7 654.3 378.5 655.2C378.4 656.0 378.3 657.3 377.5 658.0C376.6 658.6 374.9 659.4 373.6 659.4C372.2 659.4 370.5 658.7 369.6 658.0C368.8 657.3 368.6 656.1 368.5 655.2C368.4 654.4 368.5 653.6 368.9 652.9C369.2 652.1 369.9 651.4 370.4 650.6C370.8 649.9 370.9 648.9 371.4 648.4C371.9 647.8 372.7 647.2 373.3 647.2Z" fill="none" stroke="#666" stroke-width="0.6"/>
<path d="M373.4 648.9C373.9 648.9 374.6 649.4 375.0 649.8C375.5 650.2 375.7 650.9 376.1 651.4C376.4 652.0 376.9 652.7 377.1 653.3C377.3 653.9 377.5 654.4 377.4 655.0C377.4 655.7 377.3 656.7 376.6 657.2C376.0 657.7 374.6 658.3 373.6 658.3C372.5 658.3 371.1 657.7 370.5 657.2C369.9 656.7 369.8 655.7 369.7 655.0C369.6 654.4 369.8 653.9 370.0 653.3C370.3 652.7 370.7 652.0 371.1 651.4C371.4 650.9 371.6 650.4 372.0 650.0C372.4 649.6 372.9 649.0 373.4 648.9Z" fill="none" stroke="#666" stroke-width="0.6"/>
<path d="M373.5 650.7C373.8 650.7 374.3 651.0 374.6 651.3C374.9 651.6 375.0 652.1 375.3 652.4C375.5 652.8 375.9 653.2 376.0 653.6C376.2 654.0 376.3 654.4 376.2 654.9C376.2 655.3 376.1 656.0 375.7 656.4C375.2 656.7 374.3 657.1 373.6 657.1C372.9 657.1 371.9 656.8 371.4 656.4C371.0 656.0 371.0 655.3 370.9 654.9C370.9 654.4 371.0 654.1 371.1 653.6C371.3 653.2 371.6 652.8 371.8 652.4C372.1 652.0 372.2 651.6 372.5 651.3C372.7 651.0 373.1 650.7 373.5 650.7Z" fill="none" stroke="#666" stroke-width="0.6"/>
<path d="M373.5 652.3C373.7 652.3 374.0 652.5 374.1 652.7C374.3 652.8 374.4 653.1 374.6 653.3C374.7 653.5 374.9 653.8 375.0 654.0C375.1 654.2 375.1 654.5 375.1 654.7C375.1 655.0 375.0 655.3 374.8 655.6C374.5 655.8 374.0 656.0 373.6 656.0C373.2 656.0 372.7 655.7 372.4 655.5C372.2 655.3 372.1 655.0 372.1 654.7C372.0 654.5 372.1 654.2 372.2 654.0C372.3 653.8 372.5 653.5 372.6 653.3C372.7 653.1 372.8 652.9 373.0 652.7C373.1 652.5 373.3 652.3 373.5 652.3Z" fill="none" stroke="#666" stroke-width="0.6"/>
<ellipse cx="373.5" cy="654" rx="7" ry="7" fill="#777" opacity="0.3" transform="rotate(0 373.5 654)"/>
<circle cx="373.7" cy="654.3" r="1.4" fill="#ddd"/>
<path d="M365.5 618.5C366.0 617.1 367.9 616.5 369.0 616.5C370.1 616.5 371.1 618.5 372.0 618.5C372.9 618.5 373.8 616.4 374.5 616.8C375.2 617.2 375.8 619.5 376.5 621.0C377.2 622.5 378.0 624.2 378.5 626.0C379.0 627.8 379.4 630.0 379.3 632.0C379.2 634.0 379.1 636.7 378.0 638.0C376.9 639.3 374.3 640.0 372.5 640.0C370.7 640.0 368.2 639.3 367.0 638.0C365.8 636.7 365.7 634.2 365.5 632.0C365.3 629.8 366.0 627.2 366.0 625.0C366.0 622.8 365.0 619.9 365.5 618.5Z" fill="none" stroke="#777" stroke-width="0.55"/>
<path d="M372.7 620.3C373.8 620.3 375.1 623.4 375.9 625.2C376.7 627.0 377.5 629.0 377.6 631.0C377.7 633.0 377.4 635.8 376.6 637.1C375.7 638.3 373.9 638.6 372.5 638.6C371.1 638.6 369.2 638.4 368.4 637.1C367.5 635.9 367.3 633.0 367.4 631.0C367.6 629.0 368.4 626.8 369.3 625.0C370.2 623.2 371.6 620.3 372.7 620.3Z" fill="none" stroke="#777" stroke-width="0.55"/>
<path d="M372.7 623.5C373.5 623.6 374.6 625.5 375.2 626.8C375.8 628.0 376.3 629.8 376.4 631.2C376.4 632.7 376.1 634.7 375.5 635.7C374.8 636.6 373.5 637.2 372.5 637.2C371.6 637.2 370.2 636.7 369.6 635.7C368.9 634.7 368.5 632.8 368.6 631.2C368.7 629.7 369.5 628.0 370.1 626.7C370.8 625.4 371.9 623.5 372.7 623.5Z" fill="none" stroke="#777" stroke-width="0.55"/>
<path d="M372.7 626.3C373.2 626.3 373.9 627.7 374.3 628.5C374.7 629.4 375.1 630.5 375.2 631.5C375.2 632.5 375.0 633.9 374.6 634.5C374.2 635.2 373.3 635.4 372.6 635.4C371.9 635.4 371.0 635.2 370.6 634.5C370.1 633.9 370.0 632.5 370.0 631.5C370.1 630.5 370.6 629.5 371.0 628.6C371.5 627.7 372.2 626.3 372.7 626.3Z" fill="none" stroke="#777" stroke-width="0.55"/>
<path d="M372.7 629.2C373.0 629.2 373.3 629.9 373.5 630.3C373.7 630.7 373.9 631.3 373.9 631.8C373.9 632.3 373.9 632.9 373.7 633.3C373.5 633.6 373.0 633.7 372.7 633.7C372.3 633.7 371.8 633.6 371.6 633.3C371.4 633.0 371.3 632.2 371.3 631.7C371.4 631.2 371.6 630.7 371.9 630.3C372.1 629.9 372.4 629.2 372.7 629.2Z" fill="none" stroke="#777" stroke-width="0.55"/>
</g>
<path d="M331.0 660.8v2.4M333.7 660.8v1.3M336.4 660.8v1.3M339.1 660.8v1.3M341.8 660.8v1.3M344.5 660.8v2.4M347.3 660.8v1.3M350.0 660.8v1.3M352.7 660.8v1.3M355.4 660.8v1.3M358.1 660.8v2.4M360.8 660.8v1.3M363.5 660.8v1.3M366.2 660.8v1.3M368.9 660.8v1.3M371.6 660.8v2.4M374.4 660.8v1.3M377.1 660.8v1.3M379.8 660.8v1.3M382.5 660.8v1.3M385.2 660.8v2.4M387.9 660.8v1.3M390.6 660.8v1.3M393.3 660.8v1.3M396.0 660.8v1.3M398.7 660.8v2.4M401.5 660.8v1.3M404.2 660.8v1.3M406.9 660.8v1.3M409.6 660.8v1.3M412.3 660.8v2.4M415.0 660.8v1.3" stroke="#777" stroke-width="0.6" fill="none"/>
<path d="M329.0 574.0h-2.4M329.0 576.9h-1.3M329.0 579.8h-1.3M329.0 582.7h-1.3M329.0 585.6h-1.3M329.0 588.5h-2.4M329.0 591.4h-1.3M329.0 594.3h-1.3M329.0 597.2h-1.3M329.0 600.1h-1.3M329.0 603.0h-2.4M329.0 605.9h-1.3M329.0 608.8h-1.3M329.0 611.7h-1.3M329.0 614.6h-1.3M329.0 617.4h-2.4M329.0 620.3h-1.3M329.0 623.2h-1.3M329.0 626.1h-1.3M329.0 629.0h-1.3M329.0 631.9h-2.4M329.0 634.8h-1.3M329.0 637.7h-1.3M329.0 640.6h-1.3M329.0 643.5h-1.3M329.0 646.4h-2.4M329.0 649.3h-1.3M329.0 652.2h-1.3M329.0 655.1h-1.3M329.0 658.0h-1.3" stroke="#777" stroke-width="0.6" fill="none"/>
<rect x="364.5" y="613.5" width="20" height="23.5" fill="none" stroke="#222" stroke-width="1"/>
<text xml:space="preserve" x="374.30" y="604.60" font-size="11.2" font-weight="bold" stroke="#111" stroke-width="0.3" text-anchor="middle" fill="#111">3.27</text>
</svg></body></html>
